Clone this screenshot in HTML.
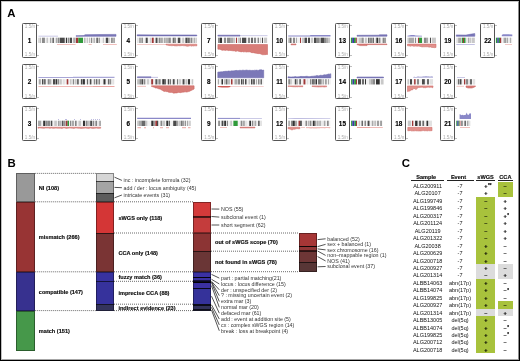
<!DOCTYPE html>
<html><head><meta charset="utf-8"><style>
html,body{margin:0;padding:0;background:#fff;}
body{width:520px;height:361px;position:relative;overflow:hidden;font-family:"Liberation Sans",sans-serif;}
#f{position:absolute;left:0;top:0;width:520px;height:361px;border:1px solid #000;box-sizing:border-box;}
#g{position:absolute;left:1px;top:1px;width:518px;height:359px;border:1px solid;border-color:rgba(0,0,0,0.22) rgba(0,0,0,0.45) rgba(0,0,0,0.35) rgba(0,0,0,0.25);box-sizing:border-box;}
#c{opacity:0.999;will-change:transform;}
#c>div{position:absolute;}
.b{-webkit-text-stroke:0.15px #000;}
svg{position:absolute;left:0;top:0;}
</style></head><body>
<div id="c">
<div style="left:22.06px;top:22.9px;width:15px;height:34.9px;background:#fff;border:1.25px solid #555;box-sizing:border-box;border-radius:1.3px;"></div>
<div style="top:25px;font-size:4.6px;line-height:4.6px;font-weight:400;color:#aaa;white-space:nowrap;left:24.86px;">1.5/n</div>
<div style="top:53px;font-size:4.6px;line-height:4.6px;font-weight:400;color:#aaa;white-space:nowrap;left:24.86px;">1.5/n</div>
<div style="left:37.06px;top:25px;width:1.9px;height:0.6px;background:#c0c0c0;"></div>
<div style="left:37.06px;top:55px;width:1.9px;height:0.6px;background:#c0c0c0;"></div>
<div class="b" style="top:38px;font-size:6.4px;line-height:6.4px;font-weight:700;color:#000;white-space:nowrap;left:29.56px;width:0;display:flex;justify-content:center;">1</div>
<div style="left:120.9px;top:22.9px;width:15px;height:34.9px;background:#fff;border:1.25px solid #555;box-sizing:border-box;border-radius:1.3px;"></div>
<div style="top:25px;font-size:4.6px;line-height:4.6px;font-weight:400;color:#aaa;white-space:nowrap;left:123.7px;">1.5/n</div>
<div style="top:53px;font-size:4.6px;line-height:4.6px;font-weight:400;color:#aaa;white-space:nowrap;left:123.7px;">1.5/n</div>
<div style="left:135.9px;top:25px;width:1.9px;height:0.6px;background:#c0c0c0;"></div>
<div style="left:135.9px;top:55px;width:1.9px;height:0.6px;background:#c0c0c0;"></div>
<div class="b" style="top:38px;font-size:6.4px;line-height:6.4px;font-weight:700;color:#000;white-space:nowrap;left:128.4px;width:0;display:flex;justify-content:center;">4</div>
<div style="left:201.4px;top:22.9px;width:15px;height:34.9px;background:#fff;border:1.25px solid #555;box-sizing:border-box;border-radius:1.3px;"></div>
<div style="top:25px;font-size:4.6px;line-height:4.6px;font-weight:400;color:#aaa;white-space:nowrap;left:204.2px;">1.5/n</div>
<div style="top:53px;font-size:4.6px;line-height:4.6px;font-weight:400;color:#aaa;white-space:nowrap;left:204.2px;">1.5/n</div>
<div style="left:216.4px;top:25px;width:1.9px;height:0.6px;background:#c0c0c0;"></div>
<div style="left:216.4px;top:55px;width:1.9px;height:0.6px;background:#c0c0c0;"></div>
<div class="b" style="top:38px;font-size:6.4px;line-height:6.4px;font-weight:700;color:#000;white-space:nowrap;left:208.9px;width:0;display:flex;justify-content:center;">7</div>
<div style="left:272px;top:22.9px;width:15px;height:34.9px;background:#fff;border:1.25px solid #555;box-sizing:border-box;border-radius:1.3px;"></div>
<div style="top:25px;font-size:4.6px;line-height:4.6px;font-weight:400;color:#aaa;white-space:nowrap;left:274.8px;">1.5/n</div>
<div style="top:53px;font-size:4.6px;line-height:4.6px;font-weight:400;color:#aaa;white-space:nowrap;left:274.8px;">1.5/n</div>
<div style="left:287px;top:25px;width:1.9px;height:0.6px;background:#c0c0c0;"></div>
<div style="left:287px;top:55px;width:1.9px;height:0.6px;background:#c0c0c0;"></div>
<div class="b" style="top:38px;font-size:6.4px;line-height:6.4px;font-weight:700;color:#000;white-space:nowrap;left:279.5px;width:0;display:flex;justify-content:center;">10</div>
<div style="left:334.9px;top:22.9px;width:15px;height:34.9px;background:#fff;border:1.25px solid #555;box-sizing:border-box;border-radius:1.3px;"></div>
<div style="top:25px;font-size:4.6px;line-height:4.6px;font-weight:400;color:#aaa;white-space:nowrap;left:337.7px;">1.5/n</div>
<div style="top:53px;font-size:4.6px;line-height:4.6px;font-weight:400;color:#aaa;white-space:nowrap;left:337.7px;">1.5/n</div>
<div style="left:349.9px;top:25px;width:1.9px;height:0.6px;background:#c0c0c0;"></div>
<div style="left:349.9px;top:55px;width:1.9px;height:0.6px;background:#c0c0c0;"></div>
<div class="b" style="top:38px;font-size:6.4px;line-height:6.4px;font-weight:700;color:#000;white-space:nowrap;left:342.4px;width:0;display:flex;justify-content:center;">13</div>
<div style="left:391.2px;top:22.9px;width:15px;height:34.9px;background:#fff;border:1.25px solid #555;box-sizing:border-box;border-radius:1.3px;"></div>
<div style="top:25px;font-size:4.6px;line-height:4.6px;font-weight:400;color:#aaa;white-space:nowrap;left:394px;">1.5/n</div>
<div style="top:53px;font-size:4.6px;line-height:4.6px;font-weight:400;color:#aaa;white-space:nowrap;left:394px;">1.5/n</div>
<div style="left:406.2px;top:25px;width:1.9px;height:0.6px;background:#c0c0c0;"></div>
<div style="left:406.2px;top:55px;width:1.9px;height:0.6px;background:#c0c0c0;"></div>
<div class="b" style="top:38px;font-size:6.4px;line-height:6.4px;font-weight:700;color:#000;white-space:nowrap;left:398.7px;width:0;display:flex;justify-content:center;">16</div>
<div style="left:440.2px;top:22.9px;width:15px;height:34.9px;background:#fff;border:1.25px solid #555;box-sizing:border-box;border-radius:1.3px;"></div>
<div style="top:25px;font-size:4.6px;line-height:4.6px;font-weight:400;color:#aaa;white-space:nowrap;left:443px;">1.5/n</div>
<div style="top:53px;font-size:4.6px;line-height:4.6px;font-weight:400;color:#aaa;white-space:nowrap;left:443px;">1.5/n</div>
<div style="left:455.2px;top:25px;width:1.9px;height:0.6px;background:#c0c0c0;"></div>
<div style="left:455.2px;top:55px;width:1.9px;height:0.6px;background:#c0c0c0;"></div>
<div class="b" style="top:38px;font-size:6.4px;line-height:6.4px;font-weight:700;color:#000;white-space:nowrap;left:447.7px;width:0;display:flex;justify-content:center;">19</div>
<div style="left:480.2px;top:22.9px;width:15px;height:34.9px;background:#fff;border:1.25px solid #555;box-sizing:border-box;border-radius:1.3px;"></div>
<div style="top:25px;font-size:4.6px;line-height:4.6px;font-weight:400;color:#aaa;white-space:nowrap;left:483px;">1.5/n</div>
<div style="top:53px;font-size:4.6px;line-height:4.6px;font-weight:400;color:#aaa;white-space:nowrap;left:483px;">1.5/n</div>
<div style="left:495.2px;top:25px;width:1.9px;height:0.6px;background:#c0c0c0;"></div>
<div style="left:495.2px;top:55px;width:1.9px;height:0.6px;background:#c0c0c0;"></div>
<div class="b" style="top:38px;font-size:6.4px;line-height:6.4px;font-weight:700;color:#000;white-space:nowrap;left:487.7px;width:0;display:flex;justify-content:center;">22</div>
<div style="left:22.06px;top:64.1px;width:15px;height:35.4px;background:#fff;border:1.25px solid #555;box-sizing:border-box;border-radius:1.3px;"></div>
<div style="top:66px;font-size:4.6px;line-height:4.6px;font-weight:400;color:#aaa;white-space:nowrap;left:24.86px;">1.5/n</div>
<div style="top:95px;font-size:4.6px;line-height:4.6px;font-weight:400;color:#aaa;white-space:nowrap;left:24.86px;">1.5/n</div>
<div style="left:37.06px;top:66.2px;width:1.9px;height:0.6px;background:#c0c0c0;"></div>
<div style="left:37.06px;top:96.7px;width:1.9px;height:0.6px;background:#c0c0c0;"></div>
<div class="b" style="top:79px;font-size:6.4px;line-height:6.4px;font-weight:700;color:#000;white-space:nowrap;left:29.56px;width:0;display:flex;justify-content:center;">2</div>
<div style="left:120.9px;top:64.1px;width:15px;height:35.4px;background:#fff;border:1.25px solid #555;box-sizing:border-box;border-radius:1.3px;"></div>
<div style="top:66px;font-size:4.6px;line-height:4.6px;font-weight:400;color:#aaa;white-space:nowrap;left:123.7px;">1.5/n</div>
<div style="top:95px;font-size:4.6px;line-height:4.6px;font-weight:400;color:#aaa;white-space:nowrap;left:123.7px;">1.5/n</div>
<div style="left:135.9px;top:66.2px;width:1.9px;height:0.6px;background:#c0c0c0;"></div>
<div style="left:135.9px;top:96.7px;width:1.9px;height:0.6px;background:#c0c0c0;"></div>
<div class="b" style="top:79px;font-size:6.4px;line-height:6.4px;font-weight:700;color:#000;white-space:nowrap;left:128.4px;width:0;display:flex;justify-content:center;">5</div>
<div style="left:201.4px;top:64.1px;width:15px;height:35.4px;background:#fff;border:1.25px solid #555;box-sizing:border-box;border-radius:1.3px;"></div>
<div style="top:66px;font-size:4.6px;line-height:4.6px;font-weight:400;color:#aaa;white-space:nowrap;left:204.2px;">1.5/n</div>
<div style="top:95px;font-size:4.6px;line-height:4.6px;font-weight:400;color:#aaa;white-space:nowrap;left:204.2px;">1.5/n</div>
<div style="left:216.4px;top:66.2px;width:1.9px;height:0.6px;background:#c0c0c0;"></div>
<div style="left:216.4px;top:96.7px;width:1.9px;height:0.6px;background:#c0c0c0;"></div>
<div class="b" style="top:79px;font-size:6.4px;line-height:6.4px;font-weight:700;color:#000;white-space:nowrap;left:208.9px;width:0;display:flex;justify-content:center;">8</div>
<div style="left:272px;top:64.1px;width:15px;height:35.4px;background:#fff;border:1.25px solid #555;box-sizing:border-box;border-radius:1.3px;"></div>
<div style="top:66px;font-size:4.6px;line-height:4.6px;font-weight:400;color:#aaa;white-space:nowrap;left:274.8px;">1.5/n</div>
<div style="top:95px;font-size:4.6px;line-height:4.6px;font-weight:400;color:#aaa;white-space:nowrap;left:274.8px;">1.5/n</div>
<div style="left:287px;top:66.2px;width:1.9px;height:0.6px;background:#c0c0c0;"></div>
<div style="left:287px;top:96.7px;width:1.9px;height:0.6px;background:#c0c0c0;"></div>
<div class="b" style="top:79px;font-size:6.4px;line-height:6.4px;font-weight:700;color:#000;white-space:nowrap;left:279.5px;width:0;display:flex;justify-content:center;">11</div>
<div style="left:334.9px;top:64.1px;width:15px;height:35.4px;background:#fff;border:1.25px solid #555;box-sizing:border-box;border-radius:1.3px;"></div>
<div style="top:66px;font-size:4.6px;line-height:4.6px;font-weight:400;color:#aaa;white-space:nowrap;left:337.7px;">1.5/n</div>
<div style="top:95px;font-size:4.6px;line-height:4.6px;font-weight:400;color:#aaa;white-space:nowrap;left:337.7px;">1.5/n</div>
<div style="left:349.9px;top:66.2px;width:1.9px;height:0.6px;background:#c0c0c0;"></div>
<div style="left:349.9px;top:96.7px;width:1.9px;height:0.6px;background:#c0c0c0;"></div>
<div class="b" style="top:79px;font-size:6.4px;line-height:6.4px;font-weight:700;color:#000;white-space:nowrap;left:342.4px;width:0;display:flex;justify-content:center;">14</div>
<div style="left:391.2px;top:64.1px;width:15px;height:35.4px;background:#fff;border:1.25px solid #555;box-sizing:border-box;border-radius:1.3px;"></div>
<div style="top:66px;font-size:4.6px;line-height:4.6px;font-weight:400;color:#aaa;white-space:nowrap;left:394px;">1.5/n</div>
<div style="top:95px;font-size:4.6px;line-height:4.6px;font-weight:400;color:#aaa;white-space:nowrap;left:394px;">1.5/n</div>
<div style="left:406.2px;top:66.2px;width:1.9px;height:0.6px;background:#c0c0c0;"></div>
<div style="left:406.2px;top:96.7px;width:1.9px;height:0.6px;background:#c0c0c0;"></div>
<div class="b" style="top:79px;font-size:6.4px;line-height:6.4px;font-weight:700;color:#000;white-space:nowrap;left:398.7px;width:0;display:flex;justify-content:center;">17</div>
<div style="left:440.2px;top:64.1px;width:15px;height:35.4px;background:#fff;border:1.25px solid #555;box-sizing:border-box;border-radius:1.3px;"></div>
<div style="top:66px;font-size:4.6px;line-height:4.6px;font-weight:400;color:#aaa;white-space:nowrap;left:443px;">1.5/n</div>
<div style="top:95px;font-size:4.6px;line-height:4.6px;font-weight:400;color:#aaa;white-space:nowrap;left:443px;">1.5/n</div>
<div style="left:455.2px;top:66.2px;width:1.9px;height:0.6px;background:#c0c0c0;"></div>
<div style="left:455.2px;top:96.7px;width:1.9px;height:0.6px;background:#c0c0c0;"></div>
<div class="b" style="top:79px;font-size:6.4px;line-height:6.4px;font-weight:700;color:#000;white-space:nowrap;left:447.7px;width:0;display:flex;justify-content:center;">20</div>
<div style="left:22.06px;top:105.9px;width:15px;height:34.9px;background:#fff;border:1.25px solid #555;box-sizing:border-box;border-radius:1.3px;"></div>
<div style="top:108px;font-size:4.6px;line-height:4.6px;font-weight:400;color:#aaa;white-space:nowrap;left:24.86px;">1.5/n</div>
<div style="top:136px;font-size:4.6px;line-height:4.6px;font-weight:400;color:#aaa;white-space:nowrap;left:24.86px;">1.5/n</div>
<div style="left:37.06px;top:108px;width:1.9px;height:0.6px;background:#c0c0c0;"></div>
<div style="left:37.06px;top:138px;width:1.9px;height:0.6px;background:#c0c0c0;"></div>
<div class="b" style="top:121px;font-size:6.4px;line-height:6.4px;font-weight:700;color:#000;white-space:nowrap;left:29.56px;width:0;display:flex;justify-content:center;">3</div>
<div style="left:120.9px;top:105.9px;width:15px;height:34.9px;background:#fff;border:1.25px solid #555;box-sizing:border-box;border-radius:1.3px;"></div>
<div style="top:108px;font-size:4.6px;line-height:4.6px;font-weight:400;color:#aaa;white-space:nowrap;left:123.7px;">1.5/n</div>
<div style="top:136px;font-size:4.6px;line-height:4.6px;font-weight:400;color:#aaa;white-space:nowrap;left:123.7px;">1.5/n</div>
<div style="left:135.9px;top:108px;width:1.9px;height:0.6px;background:#c0c0c0;"></div>
<div style="left:135.9px;top:138px;width:1.9px;height:0.6px;background:#c0c0c0;"></div>
<div class="b" style="top:121px;font-size:6.4px;line-height:6.4px;font-weight:700;color:#000;white-space:nowrap;left:128.4px;width:0;display:flex;justify-content:center;">6</div>
<div style="left:201.4px;top:105.9px;width:15px;height:34.9px;background:#fff;border:1.25px solid #555;box-sizing:border-box;border-radius:1.3px;"></div>
<div style="top:108px;font-size:4.6px;line-height:4.6px;font-weight:400;color:#aaa;white-space:nowrap;left:204.2px;">1.5/n</div>
<div style="top:136px;font-size:4.6px;line-height:4.6px;font-weight:400;color:#aaa;white-space:nowrap;left:204.2px;">1.5/n</div>
<div style="left:216.4px;top:108px;width:1.9px;height:0.6px;background:#c0c0c0;"></div>
<div style="left:216.4px;top:138px;width:1.9px;height:0.6px;background:#c0c0c0;"></div>
<div class="b" style="top:121px;font-size:6.4px;line-height:6.4px;font-weight:700;color:#000;white-space:nowrap;left:208.9px;width:0;display:flex;justify-content:center;">9</div>
<div style="left:272px;top:105.9px;width:15px;height:34.9px;background:#fff;border:1.25px solid #555;box-sizing:border-box;border-radius:1.3px;"></div>
<div style="top:108px;font-size:4.6px;line-height:4.6px;font-weight:400;color:#aaa;white-space:nowrap;left:274.8px;">1.5/n</div>
<div style="top:136px;font-size:4.6px;line-height:4.6px;font-weight:400;color:#aaa;white-space:nowrap;left:274.8px;">1.5/n</div>
<div style="left:287px;top:108px;width:1.9px;height:0.6px;background:#c0c0c0;"></div>
<div style="left:287px;top:138px;width:1.9px;height:0.6px;background:#c0c0c0;"></div>
<div class="b" style="top:121px;font-size:6.4px;line-height:6.4px;font-weight:700;color:#000;white-space:nowrap;left:279.5px;width:0;display:flex;justify-content:center;">12</div>
<div style="left:334.9px;top:105.9px;width:15px;height:34.9px;background:#fff;border:1.25px solid #555;box-sizing:border-box;border-radius:1.3px;"></div>
<div style="top:108px;font-size:4.6px;line-height:4.6px;font-weight:400;color:#aaa;white-space:nowrap;left:337.7px;">1.5/n</div>
<div style="top:136px;font-size:4.6px;line-height:4.6px;font-weight:400;color:#aaa;white-space:nowrap;left:337.7px;">1.5/n</div>
<div style="left:349.9px;top:108px;width:1.9px;height:0.6px;background:#c0c0c0;"></div>
<div style="left:349.9px;top:138px;width:1.9px;height:0.6px;background:#c0c0c0;"></div>
<div class="b" style="top:121px;font-size:6.4px;line-height:6.4px;font-weight:700;color:#000;white-space:nowrap;left:342.4px;width:0;display:flex;justify-content:center;">15</div>
<div style="left:391.2px;top:105.9px;width:15px;height:34.9px;background:#fff;border:1.25px solid #555;box-sizing:border-box;border-radius:1.3px;"></div>
<div style="top:108px;font-size:4.6px;line-height:4.6px;font-weight:400;color:#aaa;white-space:nowrap;left:394px;">1.5/n</div>
<div style="top:136px;font-size:4.6px;line-height:4.6px;font-weight:400;color:#aaa;white-space:nowrap;left:394px;">1.5/n</div>
<div style="left:406.2px;top:108px;width:1.9px;height:0.6px;background:#c0c0c0;"></div>
<div style="left:406.2px;top:138px;width:1.9px;height:0.6px;background:#c0c0c0;"></div>
<div class="b" style="top:121px;font-size:6.4px;line-height:6.4px;font-weight:700;color:#000;white-space:nowrap;left:398.7px;width:0;display:flex;justify-content:center;">18</div>
<div style="left:440.2px;top:105.9px;width:15px;height:34.9px;background:#fff;border:1.25px solid #555;box-sizing:border-box;border-radius:1.3px;"></div>
<div style="top:108px;font-size:4.6px;line-height:4.6px;font-weight:400;color:#aaa;white-space:nowrap;left:443px;">1.5/n</div>
<div style="top:136px;font-size:4.6px;line-height:4.6px;font-weight:400;color:#aaa;white-space:nowrap;left:443px;">1.5/n</div>
<div style="left:455.2px;top:108px;width:1.9px;height:0.6px;background:#c0c0c0;"></div>
<div style="left:455.2px;top:138px;width:1.9px;height:0.6px;background:#c0c0c0;"></div>
<div class="b" style="top:121px;font-size:6.4px;line-height:6.4px;font-weight:700;color:#000;white-space:nowrap;left:447.7px;width:0;display:flex;justify-content:center;">21</div>
<div style="top:8px;font-size:11.4px;line-height:11.4px;font-weight:700;color:#000;white-space:nowrap;left:7.2px;">A</div>
<div style="top:158px;font-size:11.4px;line-height:11.4px;font-weight:700;color:#000;white-space:nowrap;left:7.4px;">B</div>
<div style="top:158px;font-size:11.4px;line-height:11.4px;font-weight:700;color:#000;white-space:nowrap;left:401.8px;">C</div>
<div style="left:16.4px;top:173.3px;width:18.2px;height:28.5px;background:#999999;"></div>
<div style="left:16.4px;top:173.3px;width:18.2px;height:28.5px;background:transparent;border:0.9px solid rgba(0,0,0,0.38);box-sizing:border-box;"></div>
<div style="left:16.4px;top:201.8px;width:18.2px;height:70.2px;background:#983434;"></div>
<div style="left:16.4px;top:201.8px;width:18.2px;height:70.2px;background:transparent;border:0.9px solid rgba(0,0,0,0.38);box-sizing:border-box;"></div>
<div style="left:16.4px;top:272px;width:18.2px;height:38.7px;background:#37318f;"></div>
<div style="left:16.4px;top:272px;width:18.2px;height:38.7px;background:transparent;border:0.9px solid rgba(0,0,0,0.38);box-sizing:border-box;"></div>
<div style="left:16.4px;top:310.7px;width:18.2px;height:39.9px;background:#46984a;"></div>
<div style="left:16.4px;top:310.7px;width:18.2px;height:39.9px;background:transparent;border:0.9px solid rgba(0,0,0,0.38);box-sizing:border-box;"></div>
<div style="left:96.3px;top:173.3px;width:17.5px;height:7.7px;background:#d6d6d6;"></div>
<div style="left:96.3px;top:181px;width:17.5px;height:12.1px;background:#a4a4a4;"></div>
<div style="left:96.3px;top:193.1px;width:17.5px;height:8.7px;background:#5c5c5c;"></div>
<div style="left:96.3px;top:173.3px;width:17.5px;height:28.5px;background:transparent;border:0.9px solid rgba(0,0,0,0.38);box-sizing:border-box;"></div>
<div style="left:96.3px;top:180.7px;width:17.5px;height:0.6px;background:rgba(0,0,0,0.6);"></div>
<div style="left:96.3px;top:192.8px;width:17.5px;height:0.6px;background:rgba(0,0,0,0.6);"></div>
<div style="left:96.3px;top:201.8px;width:17.5px;height:31.2px;background:#d43636;"></div>
<div style="left:96.3px;top:233px;width:17.5px;height:38.7px;background:#7a3434;"></div>
<div style="left:96.3px;top:201.8px;width:17.5px;height:69.9px;background:transparent;border:0.9px solid rgba(0,0,0,0.38);box-sizing:border-box;"></div>
<div style="left:96.3px;top:232.7px;width:17.5px;height:0.6px;background:rgba(0,0,0,0.6);"></div>
<div style="left:96.3px;top:271.7px;width:17.5px;height:9.6px;background:#3832a0;"></div>
<div style="left:96.3px;top:281.3px;width:17.5px;height:22.9px;background:#36329c;"></div>
<div style="left:96.3px;top:304.2px;width:17.5px;height:6.4px;background:#34345c;"></div>
<div style="left:96.3px;top:271.7px;width:17.5px;height:38.9px;background:transparent;border:0.9px solid rgba(0,0,0,0.38);box-sizing:border-box;"></div>
<div style="left:96.3px;top:281px;width:17.5px;height:0.6px;background:rgba(0,0,0,0.6);"></div>
<div style="left:96.3px;top:303.9px;width:17.5px;height:0.6px;background:rgba(0,0,0,0.6);"></div>
<div style="left:193.2px;top:201.8px;width:17.6px;height:14.4px;background:#d43a3a;"></div>
<div style="left:193.2px;top:216.2px;width:17.6px;height:0.6px;background:#a83434;"></div>
<div style="left:193.2px;top:216.8px;width:17.6px;height:16.2px;background:#c43c3c;"></div>
<div style="left:193.2px;top:201.8px;width:17.6px;height:31.2px;background:transparent;border:0.9px solid rgba(0,0,0,0.38);box-sizing:border-box;"></div>
<div style="left:193.2px;top:215.9px;width:17.6px;height:0.6px;background:rgba(0,0,0,0.6);"></div>
<div style="left:193.2px;top:216.5px;width:17.6px;height:0.6px;background:rgba(0,0,0,0.6);"></div>
<div style="left:193.2px;top:233px;width:17.6px;height:18.2px;background:#8c3434;"></div>
<div style="left:193.2px;top:251.2px;width:17.6px;height:20.5px;background:#6a3636;"></div>
<div style="left:193.2px;top:233px;width:17.6px;height:38.7px;background:transparent;border:0.9px solid rgba(0,0,0,0.38);box-sizing:border-box;"></div>
<div style="left:193.2px;top:250.9px;width:17.6px;height:0.6px;background:rgba(0,0,0,0.6);"></div>
<div style="left:193.2px;top:271.7px;width:17.6px;height:5.1px;background:#3b31a2;"></div>
<div style="left:193.2px;top:276.8px;width:17.6px;height:0.8px;background:#1a1640;"></div>
<div style="left:193.2px;top:277.6px;width:17.6px;height:3.1px;background:#3a30a0;"></div>
<div style="left:193.2px;top:280.7px;width:17.6px;height:0.7px;background:#0c0c20;"></div>
<div style="left:193.2px;top:281.4px;width:17.6px;height:0.6px;background:#1c1a50;"></div>
<div style="left:193.2px;top:282px;width:17.6px;height:0.7px;background:#0c0c20;"></div>
<div style="left:193.2px;top:282.7px;width:17.6px;height:5.1px;background:#3a30a2;"></div>
<div style="left:193.2px;top:287.8px;width:17.6px;height:0.5px;background:#1c1a50;"></div>
<div style="left:193.2px;top:288.3px;width:17.6px;height:15.9px;background:#35329a;"></div>
<div style="left:193.2px;top:304.2px;width:17.6px;height:1.4px;background:#20203c;"></div>
<div style="left:193.2px;top:305.6px;width:17.6px;height:3.7px;background:#32325a;"></div>
<div style="left:193.2px;top:309.3px;width:17.6px;height:1.3px;background:#24243c;"></div>
<div style="left:193.2px;top:271.7px;width:17.6px;height:38.9px;background:transparent;border:0.9px solid rgba(0,0,0,0.38);box-sizing:border-box;"></div>
<div style="left:193.2px;top:276.5px;width:17.6px;height:0.6px;background:rgba(0,0,0,0.6);"></div>
<div style="left:193.2px;top:277.3px;width:17.6px;height:0.6px;background:rgba(0,0,0,0.6);"></div>
<div style="left:193.2px;top:280.4px;width:17.6px;height:0.6px;background:rgba(0,0,0,0.6);"></div>
<div style="left:193.2px;top:281.1px;width:17.6px;height:0.6px;background:rgba(0,0,0,0.6);"></div>
<div style="left:193.2px;top:281.7px;width:17.6px;height:0.6px;background:rgba(0,0,0,0.6);"></div>
<div style="left:193.2px;top:282.4px;width:17.6px;height:0.6px;background:rgba(0,0,0,0.6);"></div>
<div style="left:193.2px;top:287.5px;width:17.6px;height:0.6px;background:rgba(0,0,0,0.6);"></div>
<div style="left:193.2px;top:288px;width:17.6px;height:0.6px;background:rgba(0,0,0,0.6);"></div>
<div style="left:193.2px;top:303.9px;width:17.6px;height:0.6px;background:rgba(0,0,0,0.6);"></div>
<div style="left:193.2px;top:305.3px;width:17.6px;height:0.6px;background:rgba(0,0,0,0.6);"></div>
<div style="left:193.2px;top:309px;width:17.6px;height:0.6px;background:rgba(0,0,0,0.6);"></div>
<div style="left:298.9px;top:233px;width:18px;height:13.1px;background:#a63636;"></div>
<div style="left:298.9px;top:246.1px;width:18px;height:0.6px;background:#6a2a2a;"></div>
<div style="left:298.9px;top:246.7px;width:18px;height:3.9px;background:#903636;"></div>
<div style="left:298.9px;top:250.6px;width:18px;height:0.6px;background:#4a2a2a;"></div>
<div style="left:298.9px;top:251.2px;width:18px;height:10.8px;background:#6e3636;"></div>
<div style="left:298.9px;top:262px;width:18px;height:9.6px;background:#583636;"></div>
<div style="left:298.9px;top:233px;width:18px;height:38.6px;background:transparent;border:0.9px solid rgba(0,0,0,0.38);box-sizing:border-box;"></div>
<div style="left:298.9px;top:245.8px;width:18px;height:0.6px;background:rgba(0,0,0,0.6);"></div>
<div style="left:298.9px;top:246.4px;width:18px;height:0.6px;background:rgba(0,0,0,0.6);"></div>
<div style="left:298.9px;top:250.3px;width:18px;height:0.6px;background:rgba(0,0,0,0.6);"></div>
<div style="left:298.9px;top:250.9px;width:18px;height:0.6px;background:rgba(0,0,0,0.6);"></div>
<div style="left:298.9px;top:261.7px;width:18px;height:0.6px;background:rgba(0,0,0,0.6);"></div>
<div class="b" style="top:186px;font-size:5.6px;line-height:5.6px;font-weight:700;color:#111;white-space:nowrap;left:38.8px;">NI (108)</div>
<div class="b" style="top:235px;font-size:5.6px;line-height:5.6px;font-weight:700;color:#111;white-space:nowrap;left:38.8px;">mismatch (266)</div>
<div class="b" style="top:290px;font-size:5.6px;line-height:5.6px;font-weight:700;color:#111;white-space:nowrap;left:38.8px;">compatible (147)</div>
<div class="b" style="top:329px;font-size:5.6px;line-height:5.6px;font-weight:700;color:#111;white-space:nowrap;left:38.8px;">match (151)</div>
<div class="b" style="top:216px;font-size:5.6px;line-height:5.6px;font-weight:700;color:#111;white-space:nowrap;left:118.4px;">sWGS only (118)</div>
<div class="b" style="top:251px;font-size:5.6px;line-height:5.6px;font-weight:700;color:#111;white-space:nowrap;left:118.4px;">CCA only (148)</div>
<div class="b" style="top:275px;font-size:5.6px;line-height:5.6px;font-weight:700;color:#111;white-space:nowrap;left:118.4px;">fuzzy match (36)</div>
<div class="b" style="top:291px;font-size:5.6px;line-height:5.6px;font-weight:700;color:#111;white-space:nowrap;left:118.4px;">imprecise CCA (88)</div>
<div class="b" style="top:306px;font-size:5.6px;line-height:5.6px;font-weight:700;color:#111;white-space:nowrap;left:118.4px;">indirect evidence (23)</div>
<div class="b" style="top:240px;font-size:5.6px;line-height:5.6px;font-weight:700;color:#111;white-space:nowrap;left:215px;">out of sWGS scope (70)</div>
<div class="b" style="top:260px;font-size:5.6px;line-height:5.6px;font-weight:700;color:#111;white-space:nowrap;left:215px;">not found in sWGS (78)</div>
<div style="top:178px;font-size:5.3px;line-height:5.3px;font-weight:400;color:#333;white-space:nowrap;left:123.6px;">inc : incomplete formula (32)</div>
<div style="top:186px;font-size:5.3px;line-height:5.3px;font-weight:400;color:#333;white-space:nowrap;left:123.6px;">add / der : locus ambiguity (45)</div>
<div style="top:193px;font-size:5.3px;line-height:5.3px;font-weight:400;color:#333;white-space:nowrap;left:123.6px;">intricate events (31)</div>
<div style="top:207px;font-size:5.3px;line-height:5.3px;font-weight:400;color:#333;white-space:nowrap;left:221px;">NOS (55)</div>
<div style="top:215px;font-size:5.3px;line-height:5.3px;font-weight:400;color:#333;white-space:nowrap;left:221px;">subclonal event (1)</div>
<div style="top:223px;font-size:5.3px;line-height:5.3px;font-weight:400;color:#333;white-space:nowrap;left:221px;">short segment (62)</div>
<div style="top:276px;font-size:5.3px;line-height:5.3px;font-weight:400;color:#333;white-space:nowrap;left:221px;">part : partial matching(21)</div>
<div style="top:282px;font-size:5.3px;line-height:5.3px;font-weight:400;color:#333;white-space:nowrap;left:221px;">locus : locus difference (15)</div>
<div style="top:288px;font-size:5.3px;line-height:5.3px;font-weight:400;color:#333;white-space:nowrap;left:221px;">der : unspecified der (2)</div>
<div style="top:293px;font-size:5.3px;line-height:5.3px;font-weight:400;color:#333;white-space:nowrap;left:221px;">? : missing uncertain event (2)</div>
<div style="top:299px;font-size:5.3px;line-height:5.3px;font-weight:400;color:#333;white-space:nowrap;left:221px;">extra mar (3)</div>
<div style="top:305px;font-size:5.3px;line-height:5.3px;font-weight:400;color:#333;white-space:nowrap;left:221px;">normal mar (20)</div>
<div style="top:311px;font-size:5.3px;line-height:5.3px;font-weight:400;color:#333;white-space:nowrap;left:221px;">defaced mar (61)</div>
<div style="top:317px;font-size:5.3px;line-height:5.3px;font-weight:400;color:#333;white-space:nowrap;left:221px;">add : event at addition site (5)</div>
<div style="top:323px;font-size:5.3px;line-height:5.3px;font-weight:400;color:#333;white-space:nowrap;left:221px;">cx : complex sWGS region (14)</div>
<div style="top:329px;font-size:5.3px;line-height:5.3px;font-weight:400;color:#333;white-space:nowrap;left:221px;">break : loss at breakpoint (4)</div>
<div style="top:237px;font-size:5.3px;line-height:5.3px;font-weight:400;color:#333;white-space:nowrap;left:327.3px;">balanced (52)</div>
<div style="top:242px;font-size:5.3px;line-height:5.3px;font-weight:400;color:#333;white-space:nowrap;left:327.3px;">sex + balanced (1)</div>
<div style="top:248px;font-size:5.3px;line-height:5.3px;font-weight:400;color:#333;white-space:nowrap;left:327.3px;">sex chromosome (16)</div>
<div style="top:253px;font-size:5.3px;line-height:5.3px;font-weight:400;color:#333;white-space:nowrap;left:327.3px;">non–mappable region (1)</div>
<div style="top:259px;font-size:5.3px;line-height:5.3px;font-weight:400;color:#333;white-space:nowrap;left:327.3px;">NOS (41)</div>
<div style="top:264px;font-size:5.3px;line-height:5.3px;font-weight:400;color:#333;white-space:nowrap;left:327.3px;">subclonal event (37)</div>
<div style="left:476.2px;top:196.9px;width:19.1px;height:67.05px;background:#a8c23c;"></div>
<div style="left:476.2px;top:263.95px;width:19.1px;height:14.9px;background:#dcdcdc;"></div>
<div style="left:476.2px;top:278.85px;width:19.1px;height:29.8px;background:#a8c23c;"></div>
<div style="left:476.2px;top:308.65px;width:19.1px;height:7.45px;background:#dcdcdc;"></div>
<div style="left:476.2px;top:316.1px;width:19.1px;height:37.25px;background:#a8c23c;"></div>
<div style="left:498.1px;top:182px;width:15px;height:14.9px;background:#a8c23c;"></div>
<div style="left:498.1px;top:263.95px;width:15px;height:14.9px;background:#dcdcdc;"></div>
<div style="left:498.1px;top:301.2px;width:15px;height:7.45px;background:#a8c23c;"></div>
<div style="left:498.1px;top:308.65px;width:15px;height:7.45px;background:#dcdcdc;"></div>
<div style="top:184px;font-size:5.5px;line-height:5.5px;font-weight:400;color:#111;white-space:nowrap;left:427.6px;width:0;display:flex;justify-content:center;">ALG200911</div>
<div style="top:184px;font-size:5.5px;line-height:5.5px;font-weight:400;color:#111;white-space:nowrap;left:460px;width:0;display:flex;justify-content:center;">-7</div>
<div class="b" style="top:184px;font-size:5.6px;line-height:5.6px;font-weight:700;color:#000;white-space:nowrap;left:485.8px;width:0;display:flex;justify-content:center;">+</div>
<div class="b" style="top:184px;font-size:4.6px;line-height:4.6px;font-weight:700;color:#000;white-space:nowrap;left:488px;">**</div>
<div class="b" style="top:184px;font-size:5.6px;line-height:5.6px;font-weight:700;color:#000;white-space:nowrap;left:505.1px;width:0;display:flex;justify-content:center;">–</div>
<div style="top:191px;font-size:5.5px;line-height:5.5px;font-weight:400;color:#111;white-space:nowrap;left:427.6px;width:0;display:flex;justify-content:center;">ALG20107</div>
<div style="top:191px;font-size:5.5px;line-height:5.5px;font-weight:400;color:#111;white-space:nowrap;left:460px;width:0;display:flex;justify-content:center;">-7</div>
<div class="b" style="top:191px;font-size:5.6px;line-height:5.6px;font-weight:700;color:#000;white-space:nowrap;left:485.8px;width:0;display:flex;justify-content:center;">+</div>
<div class="b" style="top:191px;font-size:5.6px;line-height:5.6px;font-weight:700;color:#000;white-space:nowrap;left:505.1px;width:0;display:flex;justify-content:center;">–</div>
<div style="top:199px;font-size:5.5px;line-height:5.5px;font-weight:400;color:#111;white-space:nowrap;left:427.6px;width:0;display:flex;justify-content:center;">ALG199749</div>
<div style="top:199px;font-size:5.5px;line-height:5.5px;font-weight:400;color:#111;white-space:nowrap;left:460px;width:0;display:flex;justify-content:center;">-7</div>
<div class="b" style="top:199px;font-size:5.6px;line-height:5.6px;font-weight:700;color:#000;white-space:nowrap;left:485.8px;width:0;display:flex;justify-content:center;">–</div>
<div class="b" style="top:199px;font-size:5.6px;line-height:5.6px;font-weight:700;color:#000;white-space:nowrap;left:505.1px;width:0;display:flex;justify-content:center;">+</div>
<div style="top:206px;font-size:5.5px;line-height:5.5px;font-weight:400;color:#111;white-space:nowrap;left:427.6px;width:0;display:flex;justify-content:center;">ALG199846</div>
<div style="top:206px;font-size:5.5px;line-height:5.5px;font-weight:400;color:#111;white-space:nowrap;left:460px;width:0;display:flex;justify-content:center;">-7</div>
<div class="b" style="top:206px;font-size:5.6px;line-height:5.6px;font-weight:700;color:#000;white-space:nowrap;left:485.8px;width:0;display:flex;justify-content:center;">–</div>
<div class="b" style="top:206px;font-size:5.6px;line-height:5.6px;font-weight:700;color:#000;white-space:nowrap;left:505.1px;width:0;display:flex;justify-content:center;">+</div>
<div style="top:214px;font-size:5.5px;line-height:5.5px;font-weight:400;color:#111;white-space:nowrap;left:427.6px;width:0;display:flex;justify-content:center;">ALG200317</div>
<div style="top:214px;font-size:5.5px;line-height:5.5px;font-weight:400;color:#111;white-space:nowrap;left:460px;width:0;display:flex;justify-content:center;">-7</div>
<div class="b" style="top:214px;font-size:5.6px;line-height:5.6px;font-weight:700;color:#000;white-space:nowrap;left:485.8px;width:0;display:flex;justify-content:center;">–</div>
<div class="b" style="top:214px;font-size:5.6px;line-height:5.6px;font-weight:700;color:#000;white-space:nowrap;left:505.1px;width:0;display:flex;justify-content:center;">+</div>
<div class="b" style="top:214px;font-size:4.6px;line-height:4.6px;font-weight:700;color:#000;white-space:nowrap;left:507.3px;">*</div>
<div style="top:221px;font-size:5.5px;line-height:5.5px;font-weight:400;color:#111;white-space:nowrap;left:427.6px;width:0;display:flex;justify-content:center;">ALG201124</div>
<div style="top:221px;font-size:5.5px;line-height:5.5px;font-weight:400;color:#111;white-space:nowrap;left:460px;width:0;display:flex;justify-content:center;">-7</div>
<div class="b" style="top:221px;font-size:5.6px;line-height:5.6px;font-weight:700;color:#000;white-space:nowrap;left:485.8px;width:0;display:flex;justify-content:center;">–</div>
<div class="b" style="top:221px;font-size:5.6px;line-height:5.6px;font-weight:700;color:#000;white-space:nowrap;left:505.1px;width:0;display:flex;justify-content:center;">+</div>
<div style="top:229px;font-size:5.5px;line-height:5.5px;font-weight:400;color:#111;white-space:nowrap;left:427.6px;width:0;display:flex;justify-content:center;">ALG20119</div>
<div style="top:229px;font-size:5.5px;line-height:5.5px;font-weight:400;color:#111;white-space:nowrap;left:460px;width:0;display:flex;justify-content:center;">-7</div>
<div class="b" style="top:229px;font-size:5.6px;line-height:5.6px;font-weight:700;color:#000;white-space:nowrap;left:485.8px;width:0;display:flex;justify-content:center;">–</div>
<div class="b" style="top:229px;font-size:5.6px;line-height:5.6px;font-weight:700;color:#000;white-space:nowrap;left:505.1px;width:0;display:flex;justify-content:center;">+</div>
<div style="top:236px;font-size:5.5px;line-height:5.5px;font-weight:400;color:#111;white-space:nowrap;left:427.6px;width:0;display:flex;justify-content:center;">ALG201322</div>
<div style="top:236px;font-size:5.5px;line-height:5.5px;font-weight:400;color:#111;white-space:nowrap;left:460px;width:0;display:flex;justify-content:center;">-7</div>
<div class="b" style="top:236px;font-size:5.6px;line-height:5.6px;font-weight:700;color:#000;white-space:nowrap;left:485.8px;width:0;display:flex;justify-content:center;">–</div>
<div class="b" style="top:236px;font-size:5.6px;line-height:5.6px;font-weight:700;color:#000;white-space:nowrap;left:505.1px;width:0;display:flex;justify-content:center;">+</div>
<div style="top:244px;font-size:5.5px;line-height:5.5px;font-weight:400;color:#111;white-space:nowrap;left:427.6px;width:0;display:flex;justify-content:center;">ALG20038</div>
<div style="top:244px;font-size:5.5px;line-height:5.5px;font-weight:400;color:#111;white-space:nowrap;left:460px;width:0;display:flex;justify-content:center;">-7</div>
<div class="b" style="top:244px;font-size:5.6px;line-height:5.6px;font-weight:700;color:#000;white-space:nowrap;left:485.8px;width:0;display:flex;justify-content:center;">+</div>
<div class="b" style="top:244px;font-size:5.6px;line-height:5.6px;font-weight:700;color:#000;white-space:nowrap;left:505.1px;width:0;display:flex;justify-content:center;">–</div>
<div style="top:251px;font-size:5.5px;line-height:5.5px;font-weight:400;color:#111;white-space:nowrap;left:427.6px;width:0;display:flex;justify-content:center;">ALG200629</div>
<div style="top:251px;font-size:5.5px;line-height:5.5px;font-weight:400;color:#111;white-space:nowrap;left:460px;width:0;display:flex;justify-content:center;">-7</div>
<div class="b" style="top:251px;font-size:5.6px;line-height:5.6px;font-weight:700;color:#000;white-space:nowrap;left:485.8px;width:0;display:flex;justify-content:center;">+</div>
<div class="b" style="top:251px;font-size:5.6px;line-height:5.6px;font-weight:700;color:#000;white-space:nowrap;left:505.1px;width:0;display:flex;justify-content:center;">–</div>
<div style="top:259px;font-size:5.5px;line-height:5.5px;font-weight:400;color:#111;white-space:nowrap;left:427.6px;width:0;display:flex;justify-content:center;">ALG200718</div>
<div style="top:259px;font-size:5.5px;line-height:5.5px;font-weight:400;color:#111;white-space:nowrap;left:460px;width:0;display:flex;justify-content:center;">-7</div>
<div class="b" style="top:259px;font-size:5.6px;line-height:5.6px;font-weight:700;color:#000;white-space:nowrap;left:485.8px;width:0;display:flex;justify-content:center;">+</div>
<div class="b" style="top:259px;font-size:5.6px;line-height:5.6px;font-weight:700;color:#000;white-space:nowrap;left:505.1px;width:0;display:flex;justify-content:center;">–</div>
<div style="top:266px;font-size:5.5px;line-height:5.5px;font-weight:400;color:#111;white-space:nowrap;left:427.6px;width:0;display:flex;justify-content:center;">ALG200927</div>
<div style="top:266px;font-size:5.5px;line-height:5.5px;font-weight:400;color:#111;white-space:nowrap;left:460px;width:0;display:flex;justify-content:center;">-7</div>
<div class="b" style="top:266px;font-size:5.6px;line-height:5.6px;font-weight:700;color:#000;white-space:nowrap;left:485.8px;width:0;display:flex;justify-content:center;">+</div>
<div class="b" style="top:266px;font-size:5.6px;line-height:5.6px;font-weight:700;color:#000;white-space:nowrap;left:505.1px;width:0;display:flex;justify-content:center;">–</div>
<div style="top:273px;font-size:5.5px;line-height:5.5px;font-weight:400;color:#111;white-space:nowrap;left:427.6px;width:0;display:flex;justify-content:center;">ALG201314</div>
<div style="top:273px;font-size:5.5px;line-height:5.5px;font-weight:400;color:#111;white-space:nowrap;left:460px;width:0;display:flex;justify-content:center;">-7</div>
<div class="b" style="top:273px;font-size:5.6px;line-height:5.6px;font-weight:700;color:#000;white-space:nowrap;left:485.8px;width:0;display:flex;justify-content:center;">–</div>
<div class="b" style="top:273px;font-size:5.6px;line-height:5.6px;font-weight:700;color:#000;white-space:nowrap;left:505.1px;width:0;display:flex;justify-content:center;">+</div>
<div style="top:281px;font-size:5.5px;line-height:5.5px;font-weight:400;color:#111;white-space:nowrap;left:427.6px;width:0;display:flex;justify-content:center;">ALBB14063</div>
<div style="top:281px;font-size:5.5px;line-height:5.5px;font-weight:400;color:#111;white-space:nowrap;left:460px;width:0;display:flex;justify-content:center;">abn(17p)</div>
<div class="b" style="top:281px;font-size:5.6px;line-height:5.6px;font-weight:700;color:#000;white-space:nowrap;left:485.8px;width:0;display:flex;justify-content:center;">+</div>
<div class="b" style="top:281px;font-size:5.6px;line-height:5.6px;font-weight:700;color:#000;white-space:nowrap;left:505.1px;width:0;display:flex;justify-content:center;">–</div>
<div style="top:288px;font-size:5.5px;line-height:5.5px;font-weight:400;color:#111;white-space:nowrap;left:427.6px;width:0;display:flex;justify-content:center;">ALBB14074</div>
<div style="top:288px;font-size:5.5px;line-height:5.5px;font-weight:400;color:#111;white-space:nowrap;left:460px;width:0;display:flex;justify-content:center;">abn(17p)</div>
<div class="b" style="top:288px;font-size:5.6px;line-height:5.6px;font-weight:700;color:#000;white-space:nowrap;left:485.8px;width:0;display:flex;justify-content:center;">+</div>
<div class="b" style="top:288px;font-size:5.6px;line-height:5.6px;font-weight:700;color:#000;white-space:nowrap;left:505.1px;width:0;display:flex;justify-content:center;">–</div>
<div class="b" style="top:289px;font-size:4.6px;line-height:4.6px;font-weight:700;color:#000;white-space:nowrap;left:507.3px;">*</div>
<div style="top:296px;font-size:5.5px;line-height:5.5px;font-weight:400;color:#111;white-space:nowrap;left:427.6px;width:0;display:flex;justify-content:center;">ALG199825</div>
<div style="top:296px;font-size:5.5px;line-height:5.5px;font-weight:400;color:#111;white-space:nowrap;left:460px;width:0;display:flex;justify-content:center;">abn(17p)</div>
<div class="b" style="top:296px;font-size:5.6px;line-height:5.6px;font-weight:700;color:#000;white-space:nowrap;left:485.8px;width:0;display:flex;justify-content:center;">+</div>
<div class="b" style="top:296px;font-size:5.6px;line-height:5.6px;font-weight:700;color:#000;white-space:nowrap;left:505.1px;width:0;display:flex;justify-content:center;">–</div>
<div style="top:303px;font-size:5.5px;line-height:5.5px;font-weight:400;color:#111;white-space:nowrap;left:427.6px;width:0;display:flex;justify-content:center;">ALG200927</div>
<div style="top:303px;font-size:5.5px;line-height:5.5px;font-weight:400;color:#111;white-space:nowrap;left:460px;width:0;display:flex;justify-content:center;">abn(17p)</div>
<div class="b" style="top:303px;font-size:5.6px;line-height:5.6px;font-weight:700;color:#000;white-space:nowrap;left:485.8px;width:0;display:flex;justify-content:center;">+</div>
<div class="b" style="top:303px;font-size:5.6px;line-height:5.6px;font-weight:700;color:#000;white-space:nowrap;left:505.1px;width:0;display:flex;justify-content:center;">–</div>
<div style="top:311px;font-size:5.5px;line-height:5.5px;font-weight:400;color:#111;white-space:nowrap;left:427.6px;width:0;display:flex;justify-content:center;">ALG201314</div>
<div style="top:311px;font-size:5.5px;line-height:5.5px;font-weight:400;color:#111;white-space:nowrap;left:460px;width:0;display:flex;justify-content:center;">abn(17p)</div>
<div class="b" style="top:311px;font-size:5.6px;line-height:5.6px;font-weight:700;color:#000;white-space:nowrap;left:485.8px;width:0;display:flex;justify-content:center;">–</div>
<div class="b" style="top:311px;font-size:5.6px;line-height:5.6px;font-weight:700;color:#000;white-space:nowrap;left:505.1px;width:0;display:flex;justify-content:center;">+</div>
<div style="top:318px;font-size:5.5px;line-height:5.5px;font-weight:400;color:#111;white-space:nowrap;left:427.6px;width:0;display:flex;justify-content:center;">ALBB13005</div>
<div style="top:318px;font-size:5.5px;line-height:5.5px;font-weight:400;color:#111;white-space:nowrap;left:460px;width:0;display:flex;justify-content:center;">del(5q)</div>
<div class="b" style="top:318px;font-size:5.6px;line-height:5.6px;font-weight:700;color:#000;white-space:nowrap;left:485.8px;width:0;display:flex;justify-content:center;">+</div>
<div class="b" style="top:318px;font-size:5.6px;line-height:5.6px;font-weight:700;color:#000;white-space:nowrap;left:505.1px;width:0;display:flex;justify-content:center;">–</div>
<div style="top:326px;font-size:5.5px;line-height:5.5px;font-weight:400;color:#111;white-space:nowrap;left:427.6px;width:0;display:flex;justify-content:center;">ALBB14074</div>
<div style="top:326px;font-size:5.5px;line-height:5.5px;font-weight:400;color:#111;white-space:nowrap;left:460px;width:0;display:flex;justify-content:center;">del(5q)</div>
<div class="b" style="top:326px;font-size:5.6px;line-height:5.6px;font-weight:700;color:#000;white-space:nowrap;left:485.8px;width:0;display:flex;justify-content:center;">+</div>
<div class="b" style="top:326px;font-size:5.6px;line-height:5.6px;font-weight:700;color:#000;white-space:nowrap;left:505.1px;width:0;display:flex;justify-content:center;">–</div>
<div class="b" style="top:326px;font-size:4.6px;line-height:4.6px;font-weight:700;color:#000;white-space:nowrap;left:507.3px;">*</div>
<div style="top:333px;font-size:5.5px;line-height:5.5px;font-weight:400;color:#111;white-space:nowrap;left:427.6px;width:0;display:flex;justify-content:center;">ALG199825</div>
<div style="top:333px;font-size:5.5px;line-height:5.5px;font-weight:400;color:#111;white-space:nowrap;left:460px;width:0;display:flex;justify-content:center;">del(5q)</div>
<div class="b" style="top:333px;font-size:5.6px;line-height:5.6px;font-weight:700;color:#000;white-space:nowrap;left:485.8px;width:0;display:flex;justify-content:center;">+</div>
<div class="b" style="top:333px;font-size:5.6px;line-height:5.6px;font-weight:700;color:#000;white-space:nowrap;left:505.1px;width:0;display:flex;justify-content:center;">–</div>
<div class="b" style="top:333px;font-size:4.6px;line-height:4.6px;font-weight:700;color:#000;white-space:nowrap;left:507.3px;">*</div>
<div style="top:340px;font-size:5.5px;line-height:5.5px;font-weight:400;color:#111;white-space:nowrap;left:427.6px;width:0;display:flex;justify-content:center;">ALG200712</div>
<div style="top:340px;font-size:5.5px;line-height:5.5px;font-weight:400;color:#111;white-space:nowrap;left:460px;width:0;display:flex;justify-content:center;">del(5q)</div>
<div class="b" style="top:340px;font-size:5.6px;line-height:5.6px;font-weight:700;color:#000;white-space:nowrap;left:485.8px;width:0;display:flex;justify-content:center;">+</div>
<div class="b" style="top:340px;font-size:5.6px;line-height:5.6px;font-weight:700;color:#000;white-space:nowrap;left:505.1px;width:0;display:flex;justify-content:center;">–</div>
<div style="top:348px;font-size:5.5px;line-height:5.5px;font-weight:400;color:#111;white-space:nowrap;left:427.6px;width:0;display:flex;justify-content:center;">ALG200718</div>
<div style="top:348px;font-size:5.5px;line-height:5.5px;font-weight:400;color:#111;white-space:nowrap;left:460px;width:0;display:flex;justify-content:center;">del(5q)</div>
<div class="b" style="top:348px;font-size:5.6px;line-height:5.6px;font-weight:700;color:#000;white-space:nowrap;left:485.8px;width:0;display:flex;justify-content:center;">+</div>
<div class="b" style="top:348px;font-size:5.6px;line-height:5.6px;font-weight:700;color:#000;white-space:nowrap;left:505.1px;width:0;display:flex;justify-content:center;">–</div>
<div class="b" style="top:175px;font-size:5.6px;line-height:5.6px;font-weight:700;color:#111;white-space:nowrap;left:426.2px;width:0;display:flex;justify-content:center;">Sample</div>
<div class="b" style="top:175px;font-size:5.6px;line-height:5.6px;font-weight:700;color:#111;white-space:nowrap;left:458.5px;width:0;display:flex;justify-content:center;">Event</div>
<div class="b" style="top:175px;font-size:5.6px;line-height:5.6px;font-weight:700;color:#111;white-space:nowrap;left:485.6px;width:0;display:flex;justify-content:center;">sWGS</div>
<div class="b" style="top:175px;font-size:5.6px;line-height:5.6px;font-weight:700;color:#111;white-space:nowrap;left:505.4px;width:0;display:flex;justify-content:center;">CCA</div>
<div style="left:410.8px;top:179.7px;width:33.6px;height:0.9px;background:#222;"></div>
<div style="left:446.9px;top:179.7px;width:26.8px;height:0.9px;background:#222;"></div>
<div style="left:476.2px;top:179.7px;width:18.8px;height:0.9px;background:#222;"></div>
<div style="left:498px;top:179.7px;width:14.6px;height:0.9px;background:#222;"></div>
</div>
<svg width="520" height="361" viewBox="0 0 520 361">
<rect x="38.4" y="37.7" width="76.8" height="5.3" fill="#f2f2f2"/>
<rect x="38.4" y="37.7" width="1.2" height="5.3" fill="#c8c8c8"/>
<rect x="40" y="37.7" width="0.8" height="5.3" fill="#aaaaaa"/>
<rect x="42" y="37.7" width="2.9" height="5.3" fill="#8a8a8a"/>
<rect x="46.5" y="37.7" width="1.5" height="5.3" fill="#c8c8c8"/>
<rect x="50" y="37.7" width="1.3" height="5.3" fill="#aaaaaa"/>
<rect x="52.5" y="37.7" width="1.3" height="5.3" fill="#4a4a4a"/>
<rect x="55.8" y="37.7" width="1.6" height="5.3" fill="#aaaaaa"/>
<rect x="57.8" y="37.7" width="1.6" height="5.3" fill="#8a8a8a"/>
<rect x="59.8" y="37.7" width="4.9" height="5.3" fill="#4a4a4a"/>
<rect x="65.9" y="37.7" width="1.2" height="5.3" fill="#333333"/>
<rect x="67.9" y="37.7" width="1.6" height="5.3" fill="#8a8a8a"/>
<rect x="70" y="37.7" width="2" height="5.3" fill="#4a4a4a"/>
<rect x="73.2" y="37.7" width="2.4" height="5.3" fill="#aaaaaa"/>
<rect x="76" y="37.7" width="2.3" height="5.3" fill="#a03838"/>
<rect x="78.3" y="37.7" width="4.7" height="5.3" fill="#2f9a3a"/>
<rect x="84.2" y="37.7" width="1.2" height="5.3" fill="#aaaaaa"/>
<rect x="86.7" y="37.7" width="1.3" height="5.3" fill="#c8c8c8"/>
<rect x="89.3" y="37.7" width="0.8" height="5.3" fill="#aaaaaa"/>
<rect x="91" y="37.7" width="1.2" height="5.3" fill="#8a8a8a"/>
<rect x="93.5" y="37.7" width="1.3" height="5.3" fill="#aaaaaa"/>
<rect x="96.5" y="37.7" width="1.2" height="5.3" fill="#333333"/>
<rect x="98.6" y="37.7" width="1.2" height="5.3" fill="#8a8a8a"/>
<rect x="102.8" y="37.7" width="1.2" height="5.3" fill="#c8c8c8"/>
<rect x="105.8" y="37.7" width="2.5" height="5.3" fill="#4a4a4a"/>
<rect x="109.2" y="37.7" width="0.8" height="5.3" fill="#c8c8c8"/>
<rect x="111.3" y="37.7" width="1.3" height="5.3" fill="#6a6a6a"/>
<rect x="113.4" y="37.7" width="1.3" height="5.3" fill="#8a8a8a"/>
<rect x="137.2" y="37.7" width="59.6" height="5.3" fill="#f2f2f2"/>
<rect x="137.2" y="37.7" width="1.2" height="5.3" fill="#e2e2e2"/>
<rect x="139" y="37.7" width="2" height="5.3" fill="#aaaaaa"/>
<rect x="141.4" y="37.7" width="1.5" height="5.3" fill="#8a8a8a"/>
<rect x="145.7" y="37.7" width="2" height="5.3" fill="#4a4a4a"/>
<rect x="149.9" y="37.7" width="0.9" height="5.3" fill="#c8c8c8"/>
<rect x="151.8" y="37.7" width="1.9" height="5.3" fill="#a03838"/>
<rect x="155.6" y="37.7" width="1.9" height="5.3" fill="#4a4a4a"/>
<rect x="158.7" y="37.7" width="1.9" height="5.3" fill="#8a8a8a"/>
<rect x="161.3" y="37.7" width="1.3" height="5.3" fill="#8a8a8a"/>
<rect x="163.8" y="37.7" width="1.9" height="5.3" fill="#aaaaaa"/>
<rect x="166.4" y="37.7" width="1.2" height="5.3" fill="#8a8a8a"/>
<rect x="168.3" y="37.7" width="2.5" height="5.3" fill="#8a8a8a"/>
<rect x="172.7" y="37.7" width="1.9" height="5.3" fill="#6a6a6a"/>
<rect x="174.6" y="37.7" width="1.3" height="5.3" fill="#8a8a8a"/>
<rect x="177.8" y="37.7" width="2.5" height="5.3" fill="#4a4a4a"/>
<rect x="182.2" y="37.7" width="1.9" height="5.3" fill="#c8c8c8"/>
<rect x="185.4" y="37.7" width="1.9" height="5.3" fill="#4a4a4a"/>
<rect x="187.3" y="37.7" width="2.5" height="5.3" fill="#6a6a6a"/>
<rect x="190.5" y="37.7" width="1.9" height="5.3" fill="#8a8a8a"/>
<rect x="193.6" y="37.7" width="1.3" height="5.3" fill="#aaaaaa"/>
<rect x="195.5" y="37.7" width="1.3" height="5.3" fill="#c8c8c8"/>
<rect x="217.9" y="37.7" width="49.6" height="5.3" fill="#f2f2f2"/>
<rect x="218" y="37.7" width="2" height="5.3" fill="#8a8a8a"/>
<rect x="220" y="37.7" width="2" height="5.3" fill="#333333"/>
<rect x="224" y="37.7" width="2" height="5.3" fill="#8a8a8a"/>
<rect x="227" y="37.7" width="3" height="5.3" fill="#8a8a8a"/>
<rect x="230" y="37.7" width="3" height="5.3" fill="#aaaaaa"/>
<rect x="233" y="37.7" width="2" height="5.3" fill="#c8c8c8"/>
<rect x="236" y="37.7" width="1" height="5.3" fill="#a03838"/>
<rect x="238" y="37.7" width="2" height="5.3" fill="#c8c8c8"/>
<rect x="240" y="37.7" width="1" height="5.3" fill="#8a8a8a"/>
<rect x="242" y="37.7" width="4" height="5.3" fill="#4a4a4a"/>
<rect x="246" y="37.7" width="1" height="5.3" fill="#c8c8c8"/>
<rect x="248" y="37.7" width="2" height="5.3" fill="#8a8a8a"/>
<rect x="251" y="37.7" width="2" height="5.3" fill="#6a6a6a"/>
<rect x="254" y="37.7" width="2" height="5.3" fill="#8a8a8a"/>
<rect x="257" y="37.7" width="1" height="5.3" fill="#c8c8c8"/>
<rect x="258" y="37.7" width="1" height="5.3" fill="#8a8a8a"/>
<rect x="260" y="37.7" width="1" height="5.3" fill="#c8c8c8"/>
<rect x="262" y="37.7" width="1" height="5.3" fill="#4a4a4a"/>
<rect x="264" y="37.7" width="3" height="5.3" fill="#c8c8c8"/>
<rect x="288.2" y="37.7" width="42.3" height="5.3" fill="#f2f2f2"/>
<rect x="288" y="37.7" width="1" height="5.3" fill="#c8c8c8"/>
<rect x="289.5" y="37.7" width="2" height="5.3" fill="#6a6a6a"/>
<rect x="293" y="37.7" width="2" height="5.3" fill="#8a8a8a"/>
<rect x="296" y="37.7" width="1" height="5.3" fill="#aaaaaa"/>
<rect x="300" y="37.7" width="1" height="5.3" fill="#a03838"/>
<rect x="302" y="37.7" width="2" height="5.3" fill="#c8c8c8"/>
<rect x="304.5" y="37.7" width="2.5" height="5.3" fill="#4a4a4a"/>
<rect x="308" y="37.7" width="2" height="5.3" fill="#4a4a4a"/>
<rect x="311" y="37.7" width="2" height="5.3" fill="#c8c8c8"/>
<rect x="314" y="37.7" width="2" height="5.3" fill="#4a4a4a"/>
<rect x="316" y="37.7" width="3" height="5.3" fill="#8a8a8a"/>
<rect x="319" y="37.7" width="2" height="5.3" fill="#aaaaaa"/>
<rect x="321" y="37.7" width="3" height="5.3" fill="#4a4a4a"/>
<rect x="324" y="37.7" width="2" height="5.3" fill="#8a8a8a"/>
<rect x="326" y="37.7" width="2" height="5.3" fill="#aaaaaa"/>
<rect x="328" y="37.7" width="2" height="5.3" fill="#c8c8c8"/>
<rect x="350.9" y="37.7" width="35.5" height="5.3" fill="#f2f2f2"/>
<rect x="350.9" y="37.7" width="1.3" height="5.3" fill="#2f9a3a"/>
<rect x="352.2" y="37.7" width="1.8" height="5.3" fill="#3a3aa8"/>
<rect x="354" y="37.7" width="1.8" height="5.3" fill="#2f9a3a"/>
<rect x="355.8" y="37.7" width="1" height="5.3" fill="#a03838"/>
<rect x="357.3" y="37.7" width="1.7" height="5.3" fill="#e2e2e2"/>
<rect x="359" y="37.7" width="2.2" height="5.3" fill="#c8c8c8"/>
<rect x="361.5" y="37.7" width="1" height="5.3" fill="#8a8a8a"/>
<rect x="362.5" y="37.7" width="1" height="5.3" fill="#6a6a6a"/>
<rect x="365.4" y="37.7" width="1.1" height="5.3" fill="#aaaaaa"/>
<rect x="368" y="37.7" width="1.6" height="5.3" fill="#6a6a6a"/>
<rect x="370" y="37.7" width="2.3" height="5.3" fill="#8a8a8a"/>
<rect x="372.7" y="37.7" width="1.1" height="5.3" fill="#4a4a4a"/>
<rect x="375.8" y="37.7" width="0.7" height="5.3" fill="#8a8a8a"/>
<rect x="376.5" y="37.7" width="1.5" height="5.3" fill="#333333"/>
<rect x="378.5" y="37.7" width="1.9" height="5.3" fill="#8a8a8a"/>
<rect x="382.7" y="37.7" width="1.1" height="5.3" fill="#6a6a6a"/>
<rect x="384.2" y="37.7" width="1.6" height="5.3" fill="#8a8a8a"/>
<rect x="407.5" y="37.7" width="28.4" height="5.3" fill="#f2f2f2"/>
<rect x="407.5" y="37.7" width="1.5" height="5.3" fill="#c8c8c8"/>
<rect x="409" y="37.7" width="3" height="5.3" fill="#aaaaaa"/>
<rect x="412" y="37.7" width="2" height="5.3" fill="#aaaaaa"/>
<rect x="415" y="37.7" width="1" height="5.3" fill="#8a8a8a"/>
<rect x="418" y="37.7" width="1" height="5.3" fill="#a03838"/>
<rect x="419" y="37.7" width="3" height="5.3" fill="#2f9a3a"/>
<rect x="424" y="37.7" width="2" height="5.3" fill="#8a8a8a"/>
<rect x="426" y="37.7" width="2" height="5.3" fill="#aaaaaa"/>
<rect x="430" y="37.7" width="1" height="5.3" fill="#4a4a4a"/>
<rect x="432" y="37.7" width="3.9" height="5.3" fill="#c8c8c8"/>
<rect x="456.3" y="37.7" width="18.5" height="5.3" fill="#f2f2f2"/>
<rect x="456.3" y="37.7" width="1.9" height="5.3" fill="#e2e2e2"/>
<rect x="458.2" y="37.7" width="3" height="5.3" fill="#aaaaaa"/>
<rect x="461.8" y="37.7" width="1.2" height="5.3" fill="#2f9a3a"/>
<rect x="463" y="37.7" width="1" height="5.3" fill="#a03838"/>
<rect x="464" y="37.7" width="1.5" height="5.3" fill="#2f9a3a"/>
<rect x="466.2" y="37.7" width="1.2" height="5.3" fill="#e2e2e2"/>
<rect x="468" y="37.7" width="1.2" height="5.3" fill="#aaaaaa"/>
<rect x="469.5" y="37.7" width="1.5" height="5.3" fill="#c8c8c8"/>
<rect x="471.7" y="37.7" width="3.1" height="5.3" fill="#c8c8c8"/>
<rect x="495.9" y="37.7" width="16.4" height="5.3" fill="#f2f2f2"/>
<rect x="495.9" y="37.7" width="1.4" height="5.3" fill="#2f9a3a"/>
<rect x="497.3" y="37.7" width="1.5" height="5.3" fill="#3a3aa8"/>
<rect x="498.8" y="37.7" width="1.2" height="5.3" fill="#2f9a3a"/>
<rect x="500" y="37.7" width="1.2" height="5.3" fill="#a03838"/>
<rect x="503.7" y="37.7" width="1" height="5.3" fill="#8a8a8a"/>
<rect x="505.2" y="37.7" width="1" height="5.3" fill="#8a8a8a"/>
<rect x="506.8" y="37.7" width="1.2" height="5.3" fill="#aaaaaa"/>
<rect x="508.6" y="37.7" width="1" height="5.3" fill="#e2e2e2"/>
<rect x="510.1" y="37.7" width="1" height="5.3" fill="#aaaaaa"/>
<rect x="38.4" y="79.15" width="76.1" height="5.3" fill="#f2f2f2"/>
<rect x="38.8" y="79.15" width="2" height="5.3" fill="#aaaaaa"/>
<rect x="42" y="79.15" width="1.3" height="5.3" fill="#4a4a4a"/>
<rect x="43.7" y="79.15" width="2" height="5.3" fill="#6a6a6a"/>
<rect x="47.7" y="79.15" width="2" height="5.3" fill="#8a8a8a"/>
<rect x="50.1" y="79.15" width="1.2" height="5.3" fill="#aaaaaa"/>
<rect x="53" y="79.15" width="2.4" height="5.3" fill="#4a4a4a"/>
<rect x="55.8" y="79.15" width="1.2" height="5.3" fill="#333333"/>
<rect x="57.4" y="79.15" width="1.6" height="5.3" fill="#8a8a8a"/>
<rect x="59.4" y="79.15" width="2.4" height="5.3" fill="#c8c8c8"/>
<rect x="63" y="79.15" width="1.7" height="5.3" fill="#e2e2e2"/>
<rect x="66.7" y="79.15" width="1.6" height="5.3" fill="#a03838"/>
<rect x="70" y="79.15" width="1.5" height="5.3" fill="#c8c8c8"/>
<rect x="72.8" y="79.15" width="1.2" height="5.3" fill="#8a8a8a"/>
<rect x="74.8" y="79.15" width="0.8" height="5.3" fill="#aaaaaa"/>
<rect x="76.8" y="79.15" width="2" height="5.3" fill="#6a6a6a"/>
<rect x="80.9" y="79.15" width="1.6" height="5.3" fill="#4a4a4a"/>
<rect x="82.9" y="79.15" width="2" height="5.3" fill="#333333"/>
<rect x="86.9" y="79.15" width="1.2" height="5.3" fill="#6a6a6a"/>
<rect x="89.8" y="79.15" width="1.6" height="5.3" fill="#4a4a4a"/>
<rect x="93.8" y="79.15" width="1.2" height="5.3" fill="#8a8a8a"/>
<rect x="95.8" y="79.15" width="1.6" height="5.3" fill="#6a6a6a"/>
<rect x="98.6" y="79.15" width="1.2" height="5.3" fill="#6a6a6a"/>
<rect x="103.5" y="79.15" width="2" height="5.3" fill="#333333"/>
<rect x="107.9" y="79.15" width="1.6" height="5.3" fill="#6a6a6a"/>
<rect x="110" y="79.15" width="1.2" height="5.3" fill="#8a8a8a"/>
<rect x="112.4" y="79.15" width="1.6" height="5.3" fill="#e2e2e2"/>
<rect x="137.4" y="79.15" width="56.3" height="5.3" fill="#f2f2f2"/>
<rect x="137.4" y="79.15" width="1.3" height="5.3" fill="#aaaaaa"/>
<rect x="139.5" y="79.15" width="1.3" height="5.3" fill="#6a6a6a"/>
<rect x="141.4" y="79.15" width="1.8" height="5.3" fill="#4a4a4a"/>
<rect x="143.8" y="79.15" width="1.5" height="5.3" fill="#8a8a8a"/>
<rect x="147.5" y="79.15" width="1" height="5.3" fill="#aaaaaa"/>
<rect x="151.2" y="79.15" width="1.9" height="5.3" fill="#a03838"/>
<rect x="155.5" y="79.15" width="1.3" height="5.3" fill="#333333"/>
<rect x="157.4" y="79.15" width="1.2" height="5.3" fill="#8a8a8a"/>
<rect x="159.2" y="79.15" width="1.3" height="5.3" fill="#6a6a6a"/>
<rect x="162.3" y="79.15" width="1.9" height="5.3" fill="#333333"/>
<rect x="164.2" y="79.15" width="1.6" height="5.3" fill="#4a4a4a"/>
<rect x="167.8" y="79.15" width="1.3" height="5.3" fill="#4a4a4a"/>
<rect x="169.7" y="79.15" width="1.2" height="5.3" fill="#6a6a6a"/>
<rect x="172.8" y="79.15" width="1.8" height="5.3" fill="#4a4a4a"/>
<rect x="177.1" y="79.15" width="1" height="5.3" fill="#6a6a6a"/>
<rect x="179.5" y="79.15" width="1" height="5.3" fill="#aaaaaa"/>
<rect x="182.6" y="79.15" width="1.9" height="5.3" fill="#4a4a4a"/>
<rect x="185.7" y="79.15" width="1" height="5.3" fill="#aaaaaa"/>
<rect x="187.9" y="79.15" width="2.1" height="5.3" fill="#333333"/>
<rect x="191.8" y="79.15" width="1.3" height="5.3" fill="#c8c8c8"/>
<rect x="217.8" y="79.15" width="45.9" height="5.3" fill="#f2f2f2"/>
<rect x="217.8" y="79.15" width="1.2" height="5.3" fill="#aaaaaa"/>
<rect x="221.5" y="79.15" width="1.5" height="5.3" fill="#333333"/>
<rect x="224.5" y="79.15" width="1" height="5.3" fill="#8a8a8a"/>
<rect x="226" y="79.15" width="1.5" height="5.3" fill="#6a6a6a"/>
<rect x="228.5" y="79.15" width="1" height="5.3" fill="#8a8a8a"/>
<rect x="231" y="79.15" width="1.5" height="5.3" fill="#a03838"/>
<rect x="234.5" y="79.15" width="3" height="5.3" fill="#aaaaaa"/>
<rect x="238" y="79.15" width="2" height="5.3" fill="#8a8a8a"/>
<rect x="241" y="79.15" width="1.5" height="5.3" fill="#4a4a4a"/>
<rect x="243" y="79.15" width="1" height="5.3" fill="#6a6a6a"/>
<rect x="245" y="79.15" width="1.5" height="5.3" fill="#4a4a4a"/>
<rect x="248.5" y="79.15" width="1.5" height="5.3" fill="#c8c8c8"/>
<rect x="251" y="79.15" width="1.5" height="5.3" fill="#4a4a4a"/>
<rect x="253" y="79.15" width="2" height="5.3" fill="#6a6a6a"/>
<rect x="256" y="79.15" width="1" height="5.3" fill="#aaaaaa"/>
<rect x="258" y="79.15" width="1.5" height="5.3" fill="#8a8a8a"/>
<rect x="260.5" y="79.15" width="1.5" height="5.3" fill="#6a6a6a"/>
<rect x="288" y="79.15" width="42.8" height="5.3" fill="#f2f2f2"/>
<rect x="288.3" y="79.15" width="1.9" height="5.3" fill="#8a8a8a"/>
<rect x="290.6" y="79.15" width="0.9" height="5.3" fill="#aaaaaa"/>
<rect x="294.8" y="79.15" width="1.4" height="5.3" fill="#4a4a4a"/>
<rect x="296.6" y="79.15" width="0.9" height="5.3" fill="#6a6a6a"/>
<rect x="299.4" y="79.15" width="1.4" height="5.3" fill="#4a4a4a"/>
<rect x="303.5" y="79.15" width="1.9" height="5.3" fill="#a03838"/>
<rect x="307" y="79.15" width="1" height="5.3" fill="#e2e2e2"/>
<rect x="310" y="79.15" width="1.4" height="5.3" fill="#8a8a8a"/>
<rect x="312.3" y="79.15" width="1.4" height="5.3" fill="#333333"/>
<rect x="313.7" y="79.15" width="1.3" height="5.3" fill="#8a8a8a"/>
<rect x="315.5" y="79.15" width="1.5" height="5.3" fill="#333333"/>
<rect x="318.3" y="79.15" width="1.4" height="5.3" fill="#4a4a4a"/>
<rect x="320.2" y="79.15" width="1.3" height="5.3" fill="#6a6a6a"/>
<rect x="322.5" y="79.15" width="1.4" height="5.3" fill="#aaaaaa"/>
<rect x="325.2" y="79.15" width="1.4" height="5.3" fill="#8a8a8a"/>
<rect x="328" y="79.15" width="1" height="5.3" fill="#aaaaaa"/>
<rect x="351.1" y="79.15" width="32.4" height="5.3" fill="#f2f2f2"/>
<rect x="351.1" y="79.15" width="1.4" height="5.3" fill="#2f9a3a"/>
<rect x="352.5" y="79.15" width="1.7" height="5.3" fill="#3a3aa8"/>
<rect x="354.2" y="79.15" width="1.8" height="5.3" fill="#2f9a3a"/>
<rect x="356" y="79.15" width="1" height="5.3" fill="#a03838"/>
<rect x="358" y="79.15" width="3" height="5.3" fill="#4a4a4a"/>
<rect x="362" y="79.15" width="2" height="5.3" fill="#6a6a6a"/>
<rect x="365" y="79.15" width="1" height="5.3" fill="#333333"/>
<rect x="369" y="79.15" width="2" height="5.3" fill="#c8c8c8"/>
<rect x="371" y="79.15" width="2" height="5.3" fill="#aaaaaa"/>
<rect x="373" y="79.15" width="2" height="5.3" fill="#8a8a8a"/>
<rect x="376" y="79.15" width="3" height="5.3" fill="#333333"/>
<rect x="379" y="79.15" width="1" height="5.3" fill="#6a6a6a"/>
<rect x="381" y="79.15" width="2.5" height="5.3" fill="#c8c8c8"/>
<rect x="407.5" y="79.15" width="25.6" height="5.3" fill="#f2f2f2"/>
<rect x="407.5" y="79.15" width="1.5" height="5.3" fill="#c8c8c8"/>
<rect x="410" y="79.15" width="2" height="5.3" fill="#4a4a4a"/>
<rect x="414.1" y="79.15" width="1.5" height="5.3" fill="#a03838"/>
<rect x="417" y="79.15" width="2" height="5.3" fill="#8a8a8a"/>
<rect x="422" y="79.15" width="2" height="5.3" fill="#4a4a4a"/>
<rect x="424" y="79.15" width="1" height="5.3" fill="#6a6a6a"/>
<rect x="427" y="79.15" width="2" height="5.3" fill="#6a6a6a"/>
<rect x="430" y="79.15" width="3" height="5.3" fill="#e2e2e2"/>
<rect x="456.5" y="79.15" width="18.9" height="5.3" fill="#f2f2f2"/>
<rect x="456.5" y="79.15" width="1.5" height="5.3" fill="#e2e2e2"/>
<rect x="458" y="79.15" width="1.5" height="5.3" fill="#6a6a6a"/>
<rect x="460" y="79.15" width="1.5" height="5.3" fill="#4a4a4a"/>
<rect x="464" y="79.15" width="1.3" height="5.3" fill="#a03838"/>
<rect x="466" y="79.15" width="2" height="5.3" fill="#8a8a8a"/>
<rect x="468" y="79.15" width="2" height="5.3" fill="#e2e2e2"/>
<rect x="470" y="79.15" width="2" height="5.3" fill="#6a6a6a"/>
<rect x="473" y="79.15" width="2" height="5.3" fill="#e2e2e2"/>
<rect x="38" y="120.7" width="62.7" height="5.3" fill="#f2f2f2"/>
<rect x="38" y="120.7" width="3.2" height="5.3" fill="#aaaaaa"/>
<rect x="43.2" y="120.7" width="2" height="5.3" fill="#333333"/>
<rect x="45.4" y="120.7" width="2.4" height="5.3" fill="#8a8a8a"/>
<rect x="48" y="120.7" width="2.4" height="5.3" fill="#8a8a8a"/>
<rect x="51" y="120.7" width="1.3" height="5.3" fill="#4a4a4a"/>
<rect x="54.3" y="120.7" width="2.6" height="5.3" fill="#c8c8c8"/>
<rect x="58.2" y="120.7" width="1.3" height="5.3" fill="#8a8a8a"/>
<rect x="60.2" y="120.7" width="1.3" height="5.3" fill="#aaaaaa"/>
<rect x="62.1" y="120.7" width="1.4" height="5.3" fill="#4a4a4a"/>
<rect x="64.1" y="120.7" width="1.3" height="5.3" fill="#8a8a8a"/>
<rect x="65.8" y="120.7" width="1.8" height="5.3" fill="#a03838"/>
<rect x="67.6" y="120.7" width="1.4" height="5.3" fill="#2f9a3a"/>
<rect x="70" y="120.7" width="1.3" height="5.3" fill="#8a8a8a"/>
<rect x="72" y="120.7" width="2" height="5.3" fill="#aaaaaa"/>
<rect x="75.2" y="120.7" width="1.3" height="5.3" fill="#6a6a6a"/>
<rect x="78.5" y="120.7" width="2.5" height="5.3" fill="#c8c8c8"/>
<rect x="83" y="120.7" width="2" height="5.3" fill="#333333"/>
<rect x="85.7" y="120.7" width="1.9" height="5.3" fill="#8a8a8a"/>
<rect x="88.3" y="120.7" width="1.3" height="5.3" fill="#aaaaaa"/>
<rect x="90.2" y="120.7" width="2" height="5.3" fill="#4a4a4a"/>
<rect x="92.9" y="120.7" width="1.3" height="5.3" fill="#8a8a8a"/>
<rect x="95.5" y="120.7" width="1.3" height="5.3" fill="#6a6a6a"/>
<rect x="97.5" y="120.7" width="1" height="5.3" fill="#e2e2e2"/>
<rect x="99.4" y="120.7" width="1.3" height="5.3" fill="#8a8a8a"/>
<rect x="137.2" y="120.7" width="53.5" height="5.3" fill="#f2f2f2"/>
<rect x="137.2" y="120.7" width="1.4" height="5.3" fill="#c8c8c8"/>
<rect x="138.6" y="120.7" width="2.9" height="5.3" fill="#aaaaaa"/>
<rect x="141.5" y="120.7" width="4" height="5.3" fill="#6a6a6a"/>
<rect x="145.5" y="120.7" width="1.8" height="5.3" fill="#c8c8c8"/>
<rect x="151.3" y="120.7" width="1.7" height="5.3" fill="#333333"/>
<rect x="153" y="120.7" width="1.8" height="5.3" fill="#8a8a8a"/>
<rect x="155.3" y="120.7" width="1.7" height="5.3" fill="#a03838"/>
<rect x="157" y="120.7" width="1.2" height="5.3" fill="#4a4a4a"/>
<rect x="160.5" y="120.7" width="1.8" height="5.3" fill="#8a8a8a"/>
<rect x="163.4" y="120.7" width="1.2" height="5.3" fill="#aaaaaa"/>
<rect x="166.3" y="120.7" width="1.7" height="5.3" fill="#333333"/>
<rect x="168.6" y="120.7" width="1.2" height="5.3" fill="#4a4a4a"/>
<rect x="173.2" y="120.7" width="2.9" height="5.3" fill="#4a4a4a"/>
<rect x="176.1" y="120.7" width="1.7" height="5.3" fill="#8a8a8a"/>
<rect x="178.4" y="120.7" width="1.7" height="5.3" fill="#c8c8c8"/>
<rect x="180.7" y="120.7" width="1.2" height="5.3" fill="#6a6a6a"/>
<rect x="182.4" y="120.7" width="1.2" height="5.3" fill="#6a6a6a"/>
<rect x="184.7" y="120.7" width="1.2" height="5.3" fill="#8a8a8a"/>
<rect x="187" y="120.7" width="1.2" height="5.3" fill="#aaaaaa"/>
<rect x="189.2" y="120.7" width="1.5" height="5.3" fill="#c8c8c8"/>
<rect x="217.8" y="120.7" width="44.1" height="5.3" fill="#f2f2f2"/>
<rect x="218.2" y="120.7" width="1.7" height="5.3" fill="#8a8a8a"/>
<rect x="221.6" y="120.7" width="1.8" height="5.3" fill="#4a4a4a"/>
<rect x="224.2" y="120.7" width="1.8" height="5.3" fill="#333333"/>
<rect x="226.8" y="120.7" width="1.2" height="5.3" fill="#8a8a8a"/>
<rect x="230.3" y="120.7" width="1.7" height="5.3" fill="#c8c8c8"/>
<rect x="233.4" y="120.7" width="4.3" height="5.3" fill="#2f9a3a"/>
<rect x="240.7" y="120.7" width="1.7" height="5.3" fill="#8a8a8a"/>
<rect x="243.3" y="120.7" width="1.3" height="5.3" fill="#8a8a8a"/>
<rect x="245.3" y="120.7" width="1.4" height="5.3" fill="#e2e2e2"/>
<rect x="249.3" y="120.7" width="1.7" height="5.3" fill="#333333"/>
<rect x="251.9" y="120.7" width="1.4" height="5.3" fill="#8a8a8a"/>
<rect x="254.5" y="120.7" width="1.7" height="5.3" fill="#aaaaaa"/>
<rect x="258" y="120.7" width="1.7" height="5.3" fill="#6a6a6a"/>
<rect x="260.2" y="120.7" width="1.7" height="5.3" fill="#e2e2e2"/>
<rect x="288.1" y="120.7" width="42.2" height="5.3" fill="#f2f2f2"/>
<rect x="288.3" y="120.7" width="1.6" height="5.3" fill="#aaaaaa"/>
<rect x="291" y="120.7" width="1.1" height="5.3" fill="#8a8a8a"/>
<rect x="292.4" y="120.7" width="2.4" height="5.3" fill="#333333"/>
<rect x="295.3" y="120.7" width="1.4" height="5.3" fill="#8a8a8a"/>
<rect x="298.5" y="120.7" width="1.6" height="5.3" fill="#a03838"/>
<rect x="300.1" y="120.7" width="1.7" height="5.3" fill="#4a4a4a"/>
<rect x="305.5" y="120.7" width="1.6" height="5.3" fill="#8a8a8a"/>
<rect x="308.2" y="120.7" width="1.1" height="5.3" fill="#aaaaaa"/>
<rect x="309.8" y="120.7" width="1.6" height="5.3" fill="#8a8a8a"/>
<rect x="312.8" y="120.7" width="1.9" height="5.3" fill="#333333"/>
<rect x="315.2" y="120.7" width="1.1" height="5.3" fill="#8a8a8a"/>
<rect x="317.4" y="120.7" width="1" height="5.3" fill="#8a8a8a"/>
<rect x="319.5" y="120.7" width="1.1" height="5.3" fill="#8a8a8a"/>
<rect x="321.5" y="120.7" width="1" height="5.3" fill="#e2e2e2"/>
<rect x="323.8" y="120.7" width="1.6" height="5.3" fill="#aaaaaa"/>
<rect x="327" y="120.7" width="1.7" height="5.3" fill="#8a8a8a"/>
<rect x="351.1" y="120.7" width="31.4" height="5.3" fill="#f2f2f2"/>
<rect x="351.1" y="120.7" width="1.2" height="5.3" fill="#2f9a3a"/>
<rect x="352.3" y="120.7" width="2.2" height="5.3" fill="#3a3aa8"/>
<rect x="354.5" y="120.7" width="1.5" height="5.3" fill="#2f9a3a"/>
<rect x="356" y="120.7" width="1" height="5.3" fill="#a03838"/>
<rect x="358.8" y="120.7" width="1.1" height="5.3" fill="#c8c8c8"/>
<rect x="361.5" y="120.7" width="1.5" height="5.3" fill="#6a6a6a"/>
<rect x="364.5" y="120.7" width="1.5" height="5.3" fill="#8a8a8a"/>
<rect x="367.6" y="120.7" width="1.9" height="5.3" fill="#4a4a4a"/>
<rect x="371.8" y="120.7" width="1.6" height="5.3" fill="#aaaaaa"/>
<rect x="374.5" y="120.7" width="1.2" height="5.3" fill="#aaaaaa"/>
<rect x="377.2" y="120.7" width="1.6" height="5.3" fill="#8a8a8a"/>
<rect x="380.3" y="120.7" width="1.5" height="5.3" fill="#8a8a8a"/>
<rect x="407.8" y="120.7" width="24.2" height="5.3" fill="#f2f2f2"/>
<rect x="407.8" y="120.7" width="3.1" height="5.3" fill="#c8c8c8"/>
<rect x="412" y="120.7" width="1.3" height="5.3" fill="#a03838"/>
<rect x="415.1" y="120.7" width="2.4" height="5.3" fill="#333333"/>
<rect x="418.9" y="120.7" width="2.1" height="5.3" fill="#6a6a6a"/>
<rect x="422.4" y="120.7" width="1.7" height="5.3" fill="#6a6a6a"/>
<rect x="426.5" y="120.7" width="1.7" height="5.3" fill="#333333"/>
<rect x="429" y="120.7" width="3" height="5.3" fill="#e2e2e2"/>
<rect x="456.3" y="120.7" width="14" height="5.3" fill="#f2f2f2"/>
<rect x="456.3" y="120.7" width="1" height="5.3" fill="#2f9a3a"/>
<rect x="457.3" y="120.7" width="1.3" height="5.3" fill="#3a3aa8"/>
<rect x="458.6" y="120.7" width="1" height="5.3" fill="#2f9a3a"/>
<rect x="459.6" y="120.7" width="1" height="5.3" fill="#d87a7a"/>
<rect x="461.3" y="120.7" width="1.3" height="5.3" fill="#6a6a6a"/>
<rect x="464.5" y="120.7" width="1.3" height="5.3" fill="#4a4a4a"/>
<rect x="467" y="120.7" width="1.6" height="5.3" fill="#aaaaaa"/>
<rect x="468.6" y="120.7" width="1.7" height="5.3" fill="#e2e2e2"/>
<polygon points="38.4,35.8 58,35.8 58,36.4 38.4,36.4" fill="#a8a6d6" fill-opacity="1"/>
<polygon points="76,35.7 84,35.6 85,34.7 100,34.5 116,34.4 116,36.3 76,36.3" fill="#7b78b8" fill-opacity="1" stroke="#6a66ad" stroke-width="0.55" stroke-linejoin="round"/>
<polygon points="57,44 57,44.7 75.6,44.7 75.6,44" fill="#eaa4a0" fill-opacity="1"/>
<polygon points="88.5,44 88.5,44.7 91.7,44.7 91.7,44" fill="#eaa4a0" fill-opacity="1"/>
<polygon points="103,44 103,44.7 116.8,44.7 116.8,44" fill="#eaa4a0" fill-opacity="1"/>
<polygon points="137.2,34.8 155,34.9 196.8,35 196.8,35.9 137.2,35.9" fill="#7b78b8" fill-opacity="1" stroke="#6a66ad" stroke-width="0.55" stroke-linejoin="round"/>
<polygon points="137.2,44.2 137.2,44.8 166,44.8 166,44.2" fill="#eaa4a0" fill-opacity="1"/>
<polygon points="166,44.2 166,44.9 167,45.08 168,45.22 169,45.47 170,45.6 171,45.54 172,45.87 173,45.42 174,45.65 175,45.88 176,45.79 177,46.02 178,45.61 179,45.68 180,45.8 180.99,45.67 181.98,45.55 182.96,45.52 183.95,45.83 184.94,45.69 185.93,45.89 186.92,46.16 187.91,46.19 188.89,46.05 189.88,45.74 190.87,45.78 191.86,46.15 192.85,45.69 193.84,46.11 194.82,45.71 195.81,45.86 196.8,45.9 196.8,44.2" fill="#e1918c" fill-opacity="1" stroke="#d06a66" stroke-width="0.55" stroke-linejoin="round"/>
<polygon points="217.9,35.2 240,35.2 240,36.1 217.9,36.1" fill="#7b78b8" fill-opacity="1" stroke="#6a66ad" stroke-width="0.55" stroke-linejoin="round"/>
<polygon points="240,35.5 267.5,35.5 267.5,36.1 240,36.1" fill="#a8a6d6" fill-opacity="1"/>
<polygon points="217.9,44.5 217.9,49.2 218.93,49.22 219.97,49.25 221,49.8 222,50.2 223,50.3 224,49.91 225,50.42 226,50.29 227,50.02 228,50.5 229,50.61 230,50.24 231,50.73 232,50.47 233,51 234,50.65 235,51.04 236,51.5 237,50.85 238,51.01 239,51.47 240,51.4 241,51.92 242,51.63 243,51.52 244,52.18 245,51.32 246,52.21 247,51.71 248,52 249,51.79 250,51.9 251,52.24 252,52.89 253,52.4 254,52.94 255,53 256,53.37 257,53.33 258,53.73 259,53.48 260,53.7 261,54.08 262,54.6 263,54.81 264,54.59 265,54.7 266.25,54.41 267.5,54.5 267.5,44.5" fill="#d87d78" fill-opacity="1" stroke="#c9625d" stroke-width="0.55" stroke-linejoin="round"/>
<polygon points="288.2,35.4 310,35.4 310.5,35.1 330.5,35.1 330.5,36.4 288.2,36.4" fill="#8a88c8" fill-opacity="1"/>
<polygon points="291,44 291,44.8 296,44.8 296,44" fill="#d87d78" fill-opacity="1" stroke="#c9625d" stroke-width="0.55" stroke-linejoin="round"/>
<polygon points="357,35.3 379,35.2 379.5,34.8 387,34.8 387,36.2 357,36.2" fill="#7b78b8" fill-opacity="1" stroke="#6a66ad" stroke-width="0.55" stroke-linejoin="round"/>
<polygon points="357,44 357,44.6 360,45.6 367,45.6 368,44.6 387,44.6 387,44" fill="#d87d78" fill-opacity="1" stroke="#c9625d" stroke-width="0.55" stroke-linejoin="round"/>
<polygon points="407.5,35.7 410,35.2 411,34.9 414,34.9 415.5,35.5 422,35.7 422,36.4 407.5,36.4" fill="#8a88c8" fill-opacity="1"/>
<polygon points="407.5,44.1 407.5,45.8 408.54,45.85 409.58,45.95 410.62,46.23 411.67,45.84 412.71,45.89 413.75,46.27 414.79,46.14 415.83,46.07 416.88,46.16 417.92,46.15 418.96,46.05 420,46.4 421,46.6 422,46.91 423,46.81 424,46.84 425,46.8 426,46.72 427,46.87 428,46.67 429,47.26 430,46.94 431,46.99 432,47.68 433,47.17 434,47.8 435,47.54 436,47.5 436,44.1" fill="#e1918c" fill-opacity="1" stroke="#d06a66" stroke-width="0.55" stroke-linejoin="round"/>
<polygon points="456.3,34.9 462,35 466,35.1 470,34.3 474.8,33.6 474.8,36.3 456.3,36.3" fill="#7b78b8" fill-opacity="1" stroke="#6a66ad" stroke-width="0.55" stroke-linejoin="round"/>
<polygon points="456.3,44.2 456.3,44.9 474.8,44.9 474.8,44.2" fill="#a8a6d6" fill-opacity="1"/>
<polygon points="501.8,34.9 503,34.3 508,34.2 512.3,34.5 512.3,36.2 501.8,36.2" fill="#8a88c8" fill-opacity="1"/>
<polygon points="505,44.2 505,44.8 512,44.8 512,44.2" fill="#eaa4a0" fill-opacity="1"/>
<polygon points="38.4,77 73,77 73,76.8 114.5,76.8 114.5,77.9 38.4,77.9" fill="#a8a6d6" fill-opacity="1"/>
<polygon points="38.4,85.9 38.4,86.7 93,86.7 93,87 114.5,87 114.5,85.9" fill="#eaa4a0" fill-opacity="1"/>
<polygon points="137.4,76.8 151,76.8 151,77.7 137.4,77.7" fill="#7b78b8" fill-opacity="1" stroke="#6a66ad" stroke-width="0.55" stroke-linejoin="round"/>
<polygon points="151,76.9 158,76.9 158,77.6 151,77.6" fill="#a8a6d6" fill-opacity="1"/>
<polygon points="137.4,85.9 137.4,86.6 146,86.6 146,85.9" fill="#eaa4a0" fill-opacity="1"/>
<polygon points="151.5,85.8 151.5,86.4 152.43,86.66 153.37,87.05 154.3,87.3 155.34,87.98 156.38,87.95 157.42,88.33 158.46,88.73 159.5,89 160.54,89.25 161.58,90.01 162.62,90.6 163.66,91.23 164.7,91.5 165.76,91.34 166.82,91.66 167.88,91.65 168.94,92.39 170,92.3 171,92.57 172,92.17 173,93.05 174,93.15 175,92.9 176,92.97 177,92.89 178,92.48 179,92.31 180,92.67 181,92.6 182.03,92.15 183.07,92.15 184.1,92.09 185.13,91.82 186.17,92.07 187.2,92 188.13,91.62 189.07,91.61 190,91 191.25,90.42 192.5,89.8 193.3,89.51 194.1,89 194.1,85.8" fill="#d87d78" fill-opacity="1" stroke="#c9625d" stroke-width="0.55" stroke-linejoin="round"/>
<polygon points="217.8,72.2 218.83,71.94 219.86,72.03 220.89,71.82 221.91,71.86 222.94,71.78 223.97,71.34 225,71.5 226,71.11 227,71.5 228,71.06 229,70.94 230,71.3 231,70.88 232,70.8 233,70.94 234,70.66 235,70.7 236,70.34 237,70.57 238,70.65 239,70.38 240,70.3 241,70.44 242,70.4 243,70.04 244,70.45 245,70.35 246,70.18 247,70.02 248,70.52 249,70.28 250,70.3 250.98,70.41 251.96,70.48 252.94,70.36 253.91,70.47 254.89,70.13 255.87,70.35 256.85,70.12 257.83,70.39 258.81,70.33 259.79,69.84 260.76,69.85 261.74,69.87 262.72,70.3 263.7,70 263.7,77.8 217.8,77.8" fill="#7b78b8" fill-opacity="1" stroke="#6a66ad" stroke-width="0.55" stroke-linejoin="round"/>
<polygon points="217.8,85.9 217.8,86.9 222,87.6 228,87.6 230.5,86.9 230.5,85.9" fill="#cf5a55" fill-opacity="1"/>
<polygon points="230.5,86 230.5,86.5 263.7,86.5 263.7,86" fill="#eaa4a0" fill-opacity="1"/>
<polygon points="288,76.8 289,76.86 290,76.91 291,76.93 292,77 293,76.86 294,76.95 295,76.4 296,76.65 297,76.92 298,76.72 299,76.86 300,76.6 301,76.36 302,76.56 303,76.42 304,76.59 305,76.59 306,76.25 307,76.36 308,76.39 309,76.76 310,76.5 311,76.57 312,76.12 313,76.42 314,75.93 315,76.13 316,75.75 317,75.59 318,75.8 319,75.88 320,75.34 321,75.2 322,75.52 323,75.31 324,74.82 325,74.8 325.97,74.89 326.93,74.46 327.9,74.36 328.87,73.89 329.83,74.15 330.8,73.7 330.8,77.9 288,77.9" fill="#7b78b8" fill-opacity="1" stroke="#6a66ad" stroke-width="0.55" stroke-linejoin="round"/>
<polygon points="288,85.9 288,86.4 289,86.28 290,86.37 291,86.62 292,86.46 293,86.83 294,86.7 294.96,86.84 295.91,86.8 296.87,86.69 297.82,86.83 298.78,86.6 299.73,86.74 300.69,86.65 301.64,86.7 302.6,86.7 303,86.4 303,85.9" fill="#e1918c" fill-opacity="1" stroke="#d06a66" stroke-width="0.55" stroke-linejoin="round"/>
<polygon points="312,85.9 312,86.4 313,86.47 314,86.63 315,86.72 316,86.8 316.96,86.84 317.93,86.92 318.89,86.99 319.85,86.87 320.82,86.92 321.78,86.83 322.75,86.79 323.71,86.94 324.67,87 325.64,86.83 326.6,86.8 326.6,85.9" fill="#e1918c" fill-opacity="1" stroke="#d06a66" stroke-width="0.55" stroke-linejoin="round"/>
<polygon points="357,77 383.5,77 383.5,77.9 357,77.9" fill="#7b78b8" fill-opacity="1" stroke="#6a66ad" stroke-width="0.55" stroke-linejoin="round"/>
<polygon points="413.3,76.9 414.26,76.7 415.21,76.94 416.17,76.88 417.13,76.78 418.09,76.62 419.04,76.87 420,76.7 421,76.81 422,76.63 423,76.58 424,76.41 425,76.5 426,76.28 427,76.49 428,76.62 429,76.38 430,76.77 431,76.52 432,76.54 433,76.7 433,77.6 413.3,77.6" fill="#8a88c8" fill-opacity="1"/>
<polygon points="407.5,85.9 407.5,91.6 408.25,91.26 409,91.2 409.75,91 410.5,90.6 411.25,89.91 412,90 412.75,89.69 413.5,88.6 414.25,88.66 415,88.2 416,89.8 416.8,87.9 417.6,88.22 418.4,87.56 419.2,87.43 420,87.6 420.81,87.23 421.62,87.33 422.44,87.18 423.25,87.7 424.06,87.43 424.88,87.78 425.69,87.72 426.5,87.38 427.31,87.22 428.12,87.35 428.94,87.09 429.75,87.57 430.56,87.19 431.38,87.14 432.19,87.72 433,87.4 433,85.9" fill="#e1918c" fill-opacity="1" stroke="#d06a66" stroke-width="0.55" stroke-linejoin="round"/>
<polygon points="456.5,85.9 456.5,86.5 464,86.5 464,85.9" fill="#eaa4a0" fill-opacity="1"/>
<polygon points="466,85.9 466,87.2 468,88 472,88 474,87.2 475.4,86.5 475.4,85.9" fill="#d87d78" fill-opacity="1" stroke="#c9625d" stroke-width="0.55" stroke-linejoin="round"/>
<polygon points="457,77 465,77 465,77.6 457,77.6" fill="#a8a6d6" fill-opacity="1"/>
<polygon points="38,127.2 38,128.2 39.49,127.96 40.99,128.01 42.48,128.15 43.97,128.29 45.46,128.02 46.96,128.01 48.45,128.07 49.94,128.33 51.44,128.02 52.93,128.32 54.42,128.28 55.91,128.02 57.41,128.22 58.9,128.17 60.39,128.16 61.89,128.45 63.38,128 64.87,127.96 66.36,128.42 67.86,128.15 69.35,128.05 70.84,128.12 72.34,128.13 73.83,128.43 75.32,128.06 76.81,128.06 78.31,128.24 79.8,128.22 81.29,128.43 82.79,128.37 84.28,128.13 85.77,128.05 87.26,128.37 88.76,128.44 90.25,127.97 91.74,128.32 93.24,128.38 94.73,128.28 96.22,128.06 97.71,128.35 99.21,128.31 100.7,128.2 100.7,127.2" fill="#e1918c" fill-opacity="1" stroke="#d06a66" stroke-width="0.55" stroke-linejoin="round"/>
<polygon points="58,119 59,119 59,119.8 58,119.8" fill="#a8a6d6" fill-opacity="1"/>
<polygon points="65,119 66,119 66,119.8 65,119.8" fill="#a8a6d6" fill-opacity="1"/>
<polygon points="66,119 67,119 67,119.8 66,119.8" fill="#a8a6d6" fill-opacity="1"/>
<polygon points="74,119 75,119 75,119.8 74,119.8" fill="#a8a6d6" fill-opacity="1"/>
<polygon points="80,119 81,119 81,119.8 80,119.8" fill="#a8a6d6" fill-opacity="1"/>
<polygon points="91,119 92,119 92,119.8 91,119.8" fill="#a8a6d6" fill-opacity="1"/>
<polygon points="93,119 94,119 94,119.8 93,119.8" fill="#a8a6d6" fill-opacity="1"/>
<polygon points="95,119 96,119 96,119.8 95,119.8" fill="#a8a6d6" fill-opacity="1"/>
<polygon points="97,119 98,119 98,119.8 97,119.8" fill="#a8a6d6" fill-opacity="1"/>
<polygon points="99,119 100,119 100,119.8 99,119.8" fill="#a8a6d6" fill-opacity="1"/>
<polygon points="137.2,117.8 191,117.8 191,118.9 137.2,118.9" fill="#8a88c8" fill-opacity="1"/>
<polygon points="137.5,127.2 137.5,128.2 141,128.2 141,127.2" fill="#eaa4a0" fill-opacity="1"/>
<polygon points="144,127.2 144,128.2 146,128.2 146,127.2" fill="#eaa4a0" fill-opacity="1"/>
<polygon points="153,127.2 153,128.2 154,128.2 154,127.2" fill="#eaa4a0" fill-opacity="1"/>
<polygon points="160,127.2 160,128.2 163,128.2 163,127.2" fill="#eaa4a0" fill-opacity="1"/>
<polygon points="166,127.2 166,128.2 169,128.2 169,127.2" fill="#eaa4a0" fill-opacity="1"/>
<polygon points="182,127.2 182,128.2 186,128.2 186,127.2" fill="#eaa4a0" fill-opacity="1"/>
<polygon points="188,127.2 188,128.2 190.5,128.2 190.5,127.2" fill="#eaa4a0" fill-opacity="1"/>
<polygon points="217.8,117.9 240,117.9 240,118.9 217.8,118.9" fill="#8a88c8" fill-opacity="1"/>
<polygon points="240,118.3 261.9,118.3 261.9,118.9 240,118.9" fill="#a8a6d6" fill-opacity="1"/>
<polygon points="220,127.2 220,127.9 227,127.9 227,127.2" fill="#eaa4a0" fill-opacity="1"/>
<polygon points="240,127.2 240,127.9 255,127.9 255,127.2" fill="#d87d78" fill-opacity="1" stroke="#c9625d" stroke-width="0.55" stroke-linejoin="round"/>
<polygon points="288.1,118.4 295,118.2 299,118.2 330.3,118.4 330.3,119.1 288.1,119.1" fill="#a8a6d6" fill-opacity="1"/>
<polygon points="288.1,127.2 288.1,128.8 289.07,128.81 290.03,129.13 291,129.3 292,130.2 292.75,129.5 293.5,129.2 294.75,129.19 296,128.8 297,128.56 298,128.68 299,128.83 300,128.5 300,127.2" fill="#e1918c" fill-opacity="1" stroke="#d06a66" stroke-width="0.55" stroke-linejoin="round"/>
<polygon points="301,127.3 301,127.9 305,127.9 305,127.3" fill="#eaa4a0" fill-opacity="1"/>
<polygon points="306,127.3 306,128 307,128.24 308,127.92 309,128.24 310,128.19 311,128.43 312,128.3 313,128.26 314,128.47 315,128.16 316,128.5 317,128.27 318,128.17 319,128.24 320,128.35 321,128.11 322,128.25 323,128.1 324,128.13 325,128.3 326.06,128.11 327.12,128.07 328.18,128.03 329.24,128.17 330.3,128 330.3,127.3" fill="#eaa4a0" fill-opacity="1"/>
<polygon points="357,127.1 357,128.1 370,128.1 370,127.8 382.8,127.8 382.8,127.1" fill="#eaa4a0" fill-opacity="1"/>
<polygon points="407.8,127.3 407.8,130.8 408.81,130.73 409.82,130.64 410.82,130.6 411.83,131.05 412.84,130.85 413.85,130.91 414.86,130.83 415.87,130.73 416.88,130.94 417.88,130.85 418.89,130.97 419.9,130.9 420.91,131 421.92,130.76 422.93,130.59 423.93,130.59 424.94,130.93 425.95,130.6 426.96,130.89 427.97,130.87 428.98,130.54 429.98,130.97 430.99,130.52 432,130.8 432,127.3" fill="#e1918c" fill-opacity="1" stroke="#d06a66" stroke-width="0.55" stroke-linejoin="round"/>
<polygon points="459.6,114.2 460.5,114.6 461.5,115.2 462.5,114.8 463.5,115.3 464.5,114.9 465.5,115.1 466.2,113.8 466.8,112.6 467.4,114.6 468.5,114.9 469.5,113.6 470.2,113 471,114 471,119 459.6,119" fill="#8a88c8" fill-opacity="1"/>
<polygon points="460,127.3 460,128 470,128 470,127.3" fill="#eaa4a0" fill-opacity="1"/>
<line x1="34.8" y1="173.4" x2="96.2" y2="173.4" stroke="#444" stroke-width="0.8" stroke-dasharray="1 1"/>
<line x1="34.8" y1="201.8" x2="96.2" y2="201.8" stroke="#444" stroke-width="0.8" stroke-dasharray="1 1"/>
<line x1="34.8" y1="271.8" x2="96.2" y2="271.8" stroke="#444" stroke-width="0.8" stroke-dasharray="1 1"/>
<line x1="34.8" y1="310.6" x2="96.2" y2="310.6" stroke="#444" stroke-width="0.8" stroke-dasharray="1 1"/>
<line x1="114" y1="201.8" x2="193.1" y2="201.8" stroke="#444" stroke-width="0.8" stroke-dasharray="1 1"/>
<line x1="114" y1="233" x2="193.1" y2="233" stroke="#444" stroke-width="0.8" stroke-dasharray="1 1"/>
<line x1="114" y1="271.8" x2="193.1" y2="271.8" stroke="#444" stroke-width="0.8" stroke-dasharray="1 1"/>
<line x1="114" y1="281.3" x2="193.1" y2="281.3" stroke="#444" stroke-width="0.8" stroke-dasharray="1 1"/>
<line x1="114" y1="304.2" x2="193.1" y2="304.2" stroke="#444" stroke-width="0.8" stroke-dasharray="1 1"/>
<line x1="114" y1="310.6" x2="193.1" y2="310.6" stroke="#444" stroke-width="0.8" stroke-dasharray="1 1"/>
<line x1="211" y1="233" x2="298.8" y2="233" stroke="#444" stroke-width="0.8" stroke-dasharray="1 1"/>
<line x1="211" y1="251.2" x2="298.8" y2="251.2" stroke="#444" stroke-width="0.8" stroke-dasharray="1 1"/>
<line x1="211" y1="271.7" x2="298.8" y2="271.7" stroke="#444" stroke-width="0.8" stroke-dasharray="1 1"/>
<line x1="114.5" y1="177.2" x2="121.9" y2="180.4" stroke="#1c1c1c" stroke-width="0.75"/>
<line x1="114.5" y1="187.4" x2="121.9" y2="187.7" stroke="#1c1c1c" stroke-width="0.75"/>
<line x1="114.5" y1="197.8" x2="121.9" y2="195" stroke="#1c1c1c" stroke-width="0.75"/>
<line x1="211.5" y1="209" x2="219.3" y2="209.1" stroke="#1c1c1c" stroke-width="0.75"/>
<line x1="211.5" y1="216.5" x2="219.3" y2="217.1" stroke="#1c1c1c" stroke-width="0.75"/>
<line x1="211.5" y1="225" x2="219.3" y2="225" stroke="#1c1c1c" stroke-width="0.75"/>
<line x1="211.5" y1="274.4" x2="219.3" y2="278.1" stroke="#1c1c1c" stroke-width="0.75"/>
<line x1="211.5" y1="279.3" x2="219.3" y2="283.95" stroke="#1c1c1c" stroke-width="0.75"/>
<line x1="211.5" y1="281.3" x2="219.3" y2="289.8" stroke="#1c1c1c" stroke-width="0.75"/>
<line x1="211.5" y1="281.9" x2="219.3" y2="295.65" stroke="#1c1c1c" stroke-width="0.75"/>
<line x1="211.5" y1="282.6" x2="219.3" y2="301.5" stroke="#1c1c1c" stroke-width="0.75"/>
<line x1="211.5" y1="285.6" x2="219.3" y2="307.35" stroke="#1c1c1c" stroke-width="0.75"/>
<line x1="211.5" y1="296.2" x2="219.3" y2="313.2" stroke="#1c1c1c" stroke-width="0.75"/>
<line x1="211.5" y1="304.8" x2="219.3" y2="319.05" stroke="#1c1c1c" stroke-width="0.75"/>
<line x1="211.5" y1="307.4" x2="219.3" y2="324.9" stroke="#1c1c1c" stroke-width="0.75"/>
<line x1="211.5" y1="310" x2="219.3" y2="330.75" stroke="#1c1c1c" stroke-width="0.75"/>
<line x1="317.6" y1="239.6" x2="325.6" y2="238.8" stroke="#1c1c1c" stroke-width="0.75"/>
<line x1="317.6" y1="246.6" x2="325.6" y2="244.34" stroke="#1c1c1c" stroke-width="0.75"/>
<line x1="317.6" y1="248.9" x2="325.6" y2="249.88" stroke="#1c1c1c" stroke-width="0.75"/>
<line x1="317.6" y1="251" x2="325.6" y2="255.42" stroke="#1c1c1c" stroke-width="0.75"/>
<line x1="317.6" y1="256.6" x2="325.6" y2="260.96" stroke="#1c1c1c" stroke-width="0.75"/>
<line x1="317.6" y1="266.8" x2="325.6" y2="266.5" stroke="#1c1c1c" stroke-width="0.75"/>
</svg>
<div id="f"></div><div id="g"></div>
</body></html>
